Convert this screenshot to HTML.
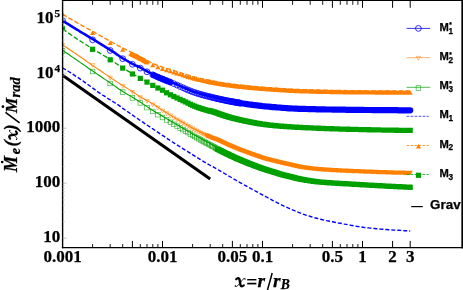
<!DOCTYPE html>
<html><head><meta charset="utf-8"><title>plot</title>
<style>html,body{margin:0;padding:0;background:#fff;}body{width:463px;height:290px;overflow:hidden;font-family:"Liberation Serif",serif;}svg{display:block;position:absolute;left:0;top:0;will-change:transform;}text{font-family:"Liberation Serif",serif;font-weight:bold;fill:#000;stroke:#000;stroke-width:0.25px;}.s{font-family:"Liberation Sans",sans-serif;font-weight:bold;}.i{font-style:italic;}</style>
</head><body>
<svg width="463" height="290" viewBox="0 0 463 290">
<rect width="463" height="290" fill="#fff"/>
<defs><clipPath id="c"><rect x="62.5" y="0" width="401" height="247.5"/></clipPath></defs>
<g clip-path="url(#c)" fill="none">
<path d="M62.5 75.2L210.2 179.1" stroke="#000" stroke-width="3"/>
<path d="M62.5 67.8 L64.5 69.0 L66.5 70.2 L68.5 71.5 L70.5 72.7 L72.5 74.0 L74.5 75.3 L76.5 76.6 L78.5 77.9 L80.5 79.3 L82.5 80.6 L84.5 82.1 L86.5 83.5 L88.5 85.0 L90.5 86.5 L92.5 87.9 L94.5 89.4 L96.5 90.9 L98.5 92.3 L100.5 93.6 L102.5 95.0 L104.5 96.2 L106.5 97.5 L108.5 98.8 L110.5 100.0 L112.5 101.3 L114.5 102.5 L116.5 103.9 L118.5 105.2 L120.5 106.6 L122.5 108.1 L124.5 109.5 L126.5 110.9 L128.5 112.3 L130.5 113.7 L132.5 115.1 L134.5 116.5 L136.5 117.8 L138.5 119.2 L140.5 120.6 L142.5 121.9 L144.5 123.3 L146.5 124.6 L148.5 126.0 L150.5 127.3 L152.5 128.7 L154.5 130.0 L156.5 131.4 L158.5 132.7 L160.5 134.1 L162.5 135.4 L164.5 136.7 L166.5 138.1 L168.5 139.4 L170.5 140.7 L172.5 142.0 L174.5 143.3 L176.5 144.6 L178.5 145.9 L180.5 147.1 L182.5 148.3 L184.5 149.6 L186.5 150.8 L188.5 152.1 L190.5 153.3 L192.5 154.6 L194.5 155.9 L196.5 157.2 L198.5 158.4 L200.5 159.7 L202.5 160.9 L204.5 162.1 L206.5 163.2 L208.5 164.4 L210.5 165.5 L212.5 166.6 L214.5 167.7 L216.5 168.8 L218.5 170.0 L220.5 171.2 L222.5 172.3 L224.5 173.5 L226.5 174.7 L228.5 175.9 L230.5 177.0 L232.5 178.2 L234.5 179.4 L236.5 180.5 L238.5 181.7 L240.5 182.8 L242.5 183.9 L244.5 185.1 L246.5 186.2 L248.5 187.3 L250.5 188.4 L252.5 189.5 L254.5 190.5 L256.5 191.6 L258.5 192.7 L260.5 193.8 L262.5 194.9 L264.5 196.0 L266.5 197.0 L268.5 198.1 L270.5 199.2 L272.5 200.3 L274.5 201.4 L276.5 202.4 L278.5 203.4 L280.5 204.4 L282.5 205.4 L284.5 206.3 L286.5 207.2 L288.5 208.1 L290.5 209.0 L292.5 209.9 L294.5 210.7 L296.5 211.6 L298.5 212.4 L300.5 213.2 L302.5 213.9 L304.5 214.6 L306.5 215.3 L308.5 215.9 L310.5 216.5 L312.5 217.1 L314.5 217.7 L316.5 218.2 L318.5 218.7 L320.5 219.2 L322.5 219.7 L324.5 220.1 L326.5 220.6 L328.5 221.0 L330.5 221.4 L332.5 221.8 L334.5 222.2 L336.5 222.6 L338.5 223.0 L340.5 223.3 L342.5 223.7 L344.5 224.1 L346.5 224.4 L348.5 224.8 L350.5 225.2 L352.5 225.5 L354.5 225.9 L356.5 226.3 L358.5 226.6 L360.5 226.9 L362.5 227.2 L364.5 227.5 L366.5 227.7 L368.5 227.9 L370.5 228.1 L372.5 228.3 L374.5 228.5 L376.5 228.7 L378.5 228.9 L380.5 229.1 L382.5 229.2 L384.5 229.4 L386.5 229.5 L388.5 229.7 L390.5 229.8 L392.5 230.0 L394.5 230.1 L396.5 230.2 L398.5 230.3 L400.5 230.4 L402.5 230.5 L404.5 230.7 L406.5 230.8 L408.5 230.9 L410.2 231.0" stroke="#0000ff" stroke-width="1.4" stroke-dasharray="4 2"/>
<path d="M62.5 50.2 L64.5 51.6 L66.5 53.0 L68.5 54.3 L70.5 55.7 L72.5 57.1 L74.5 58.5 L76.5 59.9 L78.5 61.3 L80.5 62.6 L82.5 64.0 L84.5 65.4 L86.5 66.8 L88.5 68.2 L90.5 69.5 L92.5 70.9 L94.5 72.3 L96.5 73.6 L98.5 75.0 L100.5 76.3 L102.5 77.7 L104.5 79.1 L106.5 80.4 L108.5 81.8 L110.5 83.1 L112.5 84.5 L114.5 85.9 L116.5 87.3 L118.5 88.7 L120.5 90.0 L122.5 91.3 L124.5 92.6 L126.5 93.8 L128.5 94.9 L130.5 96.1 L132.5 97.3 L134.5 98.5 L136.5 99.8 L138.5 101.0 L140.5 102.3 L142.5 103.6 L144.5 105.0 L146.5 106.4 L148.5 107.7 L150.5 109.0 L152.5 110.3 L154.5 111.5 L156.5 112.7 L158.5 113.8 L160.5 115.0 L162.5 116.2 L164.5 117.4 L166.5 118.6 L168.5 119.8 L170.5 121.0 L172.5 122.1 L174.5 123.3 L176.5 124.5 L178.5 125.6 L180.5 126.8 L182.5 128.0 L184.5 129.1 L186.5 130.3 L188.5 131.4 L190.5 132.6 L192.5 133.7 L194.5 134.9 L196.5 136.0 L198.5 137.2 L200.5 138.3 L202.5 139.4 L204.5 140.5 L206.5 141.6 L208.5 142.6 L210.5 143.7 L212.5 144.8 L214.5 145.9 L216.5 147.0 L218.5 148.0 L220.5 149.1 L222.5 150.1 L224.5 151.1 L226.5 152.1 L228.5 153.0 L230.5 154.0 L232.5 154.9 L234.5 155.8 L236.5 156.7 L238.5 157.6 L240.5 158.5 L242.5 159.3 L244.5 160.1 L246.5 161.0 L248.5 161.7 L250.5 162.5 L252.5 163.3 L254.5 164.1 L256.5 164.8 L258.5 165.6 L260.5 166.3 L262.5 167.0 L264.5 167.7 L266.5 168.3 L268.5 168.9 L270.5 169.5 L272.5 170.1 L274.5 170.7 L276.5 171.4 L278.5 172.0 L280.5 172.6 L282.5 173.2 L284.5 173.7 L286.5 174.2 L288.5 174.7 L290.5 175.2 L292.5 175.7 L294.5 176.2 L296.5 176.7 L298.5 177.2 L300.5 177.6 L302.5 178.0 L304.5 178.3 L306.5 178.7 L308.5 179.0 L310.5 179.3 L312.5 179.6 L314.5 179.9 L316.5 180.1 L318.5 180.4 L320.5 180.5 L322.5 180.7 L324.5 180.9 L326.5 181.1 L328.5 181.2 L330.5 181.3 L332.5 181.5 L334.5 181.6 L336.5 181.7 L338.5 181.8 L340.5 182.0 L342.5 182.1 L344.5 182.2 L346.5 182.3 L348.5 182.4 L350.5 182.5 L352.5 182.7 L354.5 182.8 L356.5 182.9 L358.5 183.0 L360.5 183.1 L362.5 183.2 L364.5 183.4 L366.5 183.5 L368.5 183.6 L370.5 183.7 L372.5 183.8 L374.5 183.9 L376.5 184.0 L378.5 184.2 L380.5 184.3 L382.5 184.4 L384.5 184.5 L386.5 184.6 L388.5 184.7 L390.5 184.8 L392.5 184.9 L394.5 185.0 L396.5 185.1 L398.5 185.2 L400.5 185.3 L402.5 185.4 L404.5 185.5 L406.5 185.6 L408.5 185.7 L410.2 185.8" stroke="#00a000" stroke-width="1.1"/>
<rect x="60.2" y="48.7" width="4.6" height="4.6" fill="none" stroke="#00a000" stroke-width="0.6" stroke-opacity="0.85"/><rect x="90.3" y="69.2" width="4.6" height="4.6" fill="none" stroke="#00a000" stroke-width="0.6" stroke-opacity="0.85"/><rect x="107.9" y="81.2" width="4.6" height="4.6" fill="none" stroke="#00a000" stroke-width="0.6" stroke-opacity="0.85"/><rect x="120.4" y="89.8" width="4.6" height="4.6" fill="none" stroke="#00a000" stroke-width="0.6" stroke-opacity="0.85"/><rect x="130.1" y="95.6" width="4.6" height="4.6" fill="none" stroke="#00a000" stroke-width="0.6" stroke-opacity="0.85"/><rect x="138" y="100.6" width="4.6" height="4.6" fill="none" stroke="#00a000" stroke-width="0.6" stroke-opacity="0.85"/><rect x="144.7" y="105.3" width="4.6" height="4.6" fill="none" stroke="#00a000" stroke-width="0.6" stroke-opacity="0.85"/><rect x="150.5" y="109.2" width="4.6" height="4.6" fill="none" stroke="#00a000" stroke-width="0.6" stroke-opacity="0.85"/><rect x="155.6" y="112.4" width="4.6" height="4.6" fill="none" stroke="#00a000" stroke-width="0.6" stroke-opacity="0.85"/><rect x="160.2" y="115.2" width="4.6" height="4.6" fill="none" stroke="#00a000" stroke-width="0.6" stroke-opacity="0.85"/><rect x="164.3" y="117.7" width="4.6" height="4.6" fill="none" stroke="#00a000" stroke-width="0.6" stroke-opacity="0.85"/><rect x="168.1" y="120" width="4.6" height="4.6" fill="none" stroke="#00a000" stroke-width="0.6" stroke-opacity="0.85"/><rect x="171.6" y="122" width="4.6" height="4.6" fill="none" stroke="#00a000" stroke-width="0.6" stroke-opacity="0.85"/><rect x="174.8" y="123.9" width="4.6" height="4.6" fill="none" stroke="#00a000" stroke-width="0.6" stroke-opacity="0.85"/><rect x="177.8" y="125.7" width="4.6" height="4.6" fill="none" stroke="#00a000" stroke-width="0.6" stroke-opacity="0.85"/><rect x="180.6" y="127.3" width="4.6" height="4.6" fill="none" stroke="#00a000" stroke-width="0.6" stroke-opacity="0.85"/><rect x="183.2" y="128.9" width="4.6" height="4.6" fill="none" stroke="#00a000" stroke-width="0.6" stroke-opacity="0.85"/><rect x="185.7" y="130.3" width="4.6" height="4.6" fill="none" stroke="#00a000" stroke-width="0.6" stroke-opacity="0.85"/><rect x="188.1" y="131.7" width="4.6" height="4.6" fill="none" stroke="#00a000" stroke-width="0.6" stroke-opacity="0.85"/><rect x="190.3" y="133" width="4.6" height="4.6" fill="none" stroke="#00a000" stroke-width="0.6" stroke-opacity="0.85"/><rect x="192.4" y="134.2" width="4.6" height="4.6" fill="none" stroke="#00a000" stroke-width="0.6" stroke-opacity="0.85"/><rect x="194.4" y="135.3" width="4.6" height="4.6" fill="none" stroke="#00a000" stroke-width="0.6" stroke-opacity="0.85"/><rect x="196.4" y="136.4" width="4.6" height="4.6" fill="none" stroke="#00a000" stroke-width="0.6" stroke-opacity="0.85"/><rect x="198.2" y="137.5" width="4.6" height="4.6" fill="none" stroke="#00a000" stroke-width="0.6" stroke-opacity="0.85"/><rect x="200" y="138.5" width="4.6" height="4.6" fill="none" stroke="#00a000" stroke-width="0.6" stroke-opacity="0.85"/><rect x="201.7" y="139.4" width="4.6" height="4.6" fill="none" stroke="#00a000" stroke-width="0.6" stroke-opacity="0.85"/><rect x="203.3" y="140.3" width="4.6" height="4.6" fill="none" stroke="#00a000" stroke-width="0.6" stroke-opacity="0.85"/><rect x="204.9" y="141.1" width="4.6" height="4.6" fill="none" stroke="#00a000" stroke-width="0.6" stroke-opacity="0.85"/><rect x="206.4" y="142" width="4.6" height="4.6" fill="none" stroke="#00a000" stroke-width="0.6" stroke-opacity="0.85"/><rect x="207.9" y="142.7" width="4.6" height="4.6" fill="none" stroke="#00a000" stroke-width="0.6" stroke-opacity="0.85"/><rect x="209.3" y="143.5" width="4.6" height="4.6" fill="none" stroke="#00a000" stroke-width="0.6" stroke-opacity="0.85"/><rect x="210.7" y="144.3" width="4.6" height="4.6" fill="none" stroke="#00a000" stroke-width="0.6" stroke-opacity="0.85"/><rect x="212.1" y="145" width="4.6" height="4.6" fill="none" stroke="#00a000" stroke-width="0.6" stroke-opacity="0.85"/><rect x="213.3" y="145.7" width="4.6" height="4.6" fill="none" stroke="#00a000" stroke-width="0.6" stroke-opacity="0.85"/><rect x="214.6" y="146.4" width="4.6" height="4.6" fill="none" stroke="#00a000" stroke-width="0.6" stroke-opacity="0.85"/>
<path d="M214.9 146.4h5.2v5.2h-5.2zM215.5 146.7h5.2v5.2h-5.2zM216.1 147.0h5.2v5.2h-5.2zM216.7 147.4h5.2v5.2h-5.2zM217.3 147.7h5.2v5.2h-5.2zM217.9 148.0h5.2v5.2h-5.2zM218.5 148.3h5.2v5.2h-5.2zM219.1 148.6h5.2v5.2h-5.2zM219.7 148.9h5.2v5.2h-5.2zM220.3 149.2h5.2v5.2h-5.2zM220.9 149.5h5.2v5.2h-5.2zM221.5 149.8h5.2v5.2h-5.2zM222.1 150.1h5.2v5.2h-5.2zM222.7 150.4h5.2v5.2h-5.2zM223.3 150.7h5.2v5.2h-5.2zM223.9 151.0h5.2v5.2h-5.2zM224.5 151.3h5.2v5.2h-5.2zM225.1 151.6h5.2v5.2h-5.2zM225.7 151.8h5.2v5.2h-5.2zM226.3 152.1h5.2v5.2h-5.2zM226.9 152.4h5.2v5.2h-5.2zM227.5 152.7h5.2v5.2h-5.2zM228.1 153.0h5.2v5.2h-5.2zM228.7 153.3h5.2v5.2h-5.2zM229.3 153.6h5.2v5.2h-5.2zM229.9 153.8h5.2v5.2h-5.2zM230.5 154.1h5.2v5.2h-5.2zM231.1 154.4h5.2v5.2h-5.2zM231.7 154.7h5.2v5.2h-5.2zM232.3 154.9h5.2v5.2h-5.2zM232.9 155.2h5.2v5.2h-5.2zM233.5 155.5h5.2v5.2h-5.2zM234.1 155.7h5.2v5.2h-5.2zM234.7 156.0h5.2v5.2h-5.2zM235.3 156.3h5.2v5.2h-5.2zM235.9 156.5h5.2v5.2h-5.2zM236.5 156.8h5.2v5.2h-5.2zM237.1 157.0h5.2v5.2h-5.2zM237.7 157.3h5.2v5.2h-5.2zM238.3 157.6h5.2v5.2h-5.2zM238.9 157.8h5.2v5.2h-5.2zM239.5 158.1h5.2v5.2h-5.2zM240.1 158.3h5.2v5.2h-5.2zM240.7 158.6h5.2v5.2h-5.2zM241.3 158.8h5.2v5.2h-5.2zM241.9 159.1h5.2v5.2h-5.2zM242.5 159.3h5.2v5.2h-5.2zM243.1 159.5h5.2v5.2h-5.2zM243.7 159.8h5.2v5.2h-5.2zM244.3 160.0h5.2v5.2h-5.2zM244.9 160.3h5.2v5.2h-5.2zM245.5 160.5h5.2v5.2h-5.2zM246.1 160.7h5.2v5.2h-5.2zM246.7 161.0h5.2v5.2h-5.2zM247.3 161.2h5.2v5.2h-5.2zM247.9 161.4h5.2v5.2h-5.2zM248.5 161.7h5.2v5.2h-5.2zM249.1 161.9h5.2v5.2h-5.2zM249.7 162.1h5.2v5.2h-5.2zM250.3 162.4h5.2v5.2h-5.2zM250.9 162.6h5.2v5.2h-5.2zM251.5 162.8h5.2v5.2h-5.2zM252.1 163.0h5.2v5.2h-5.2zM252.7 163.3h5.2v5.2h-5.2zM253.3 163.5h5.2v5.2h-5.2zM253.9 163.7h5.2v5.2h-5.2zM254.5 163.9h5.2v5.2h-5.2zM255.1 164.2h5.2v5.2h-5.2zM255.7 164.4h5.2v5.2h-5.2zM256.3 164.6h5.2v5.2h-5.2zM256.9 164.8h5.2v5.2h-5.2zM257.5 165.0h5.2v5.2h-5.2zM258.1 165.3h5.2v5.2h-5.2zM258.7 165.5h5.2v5.2h-5.2zM259.3 165.7h5.2v5.2h-5.2zM259.9 165.9h5.2v5.2h-5.2zM260.5 166.1h5.2v5.2h-5.2zM261.1 166.3h5.2v5.2h-5.2zM261.7 166.5h5.2v5.2h-5.2zM262.3 166.7h5.2v5.2h-5.2zM262.9 166.9h5.2v5.2h-5.2zM263.5 167.1h5.2v5.2h-5.2zM264.1 167.3h5.2v5.2h-5.2zM264.7 167.5h5.2v5.2h-5.2zM265.3 167.7h5.2v5.2h-5.2zM265.9 167.8h5.2v5.2h-5.2zM266.5 168.0h5.2v5.2h-5.2zM267.1 168.2h5.2v5.2h-5.2zM267.7 168.4h5.2v5.2h-5.2zM268.3 168.5h5.2v5.2h-5.2zM268.9 168.7h5.2v5.2h-5.2zM269.5 168.9h5.2v5.2h-5.2zM270.1 169.1h5.2v5.2h-5.2zM270.7 169.3h5.2v5.2h-5.2zM271.3 169.5h5.2v5.2h-5.2zM271.9 169.7h5.2v5.2h-5.2zM272.5 169.8h5.2v5.2h-5.2zM273.1 170.0h5.2v5.2h-5.2zM273.7 170.2h5.2v5.2h-5.2zM274.3 170.4h5.2v5.2h-5.2zM274.9 170.6h5.2v5.2h-5.2zM275.5 170.8h5.2v5.2h-5.2zM276.1 171.0h5.2v5.2h-5.2zM276.7 171.2h5.2v5.2h-5.2zM277.3 171.3h5.2v5.2h-5.2zM277.9 171.5h5.2v5.2h-5.2zM278.5 171.7h5.2v5.2h-5.2zM279.1 171.9h5.2v5.2h-5.2zM279.7 172.0h5.2v5.2h-5.2zM280.3 172.2h5.2v5.2h-5.2zM280.9 172.4h5.2v5.2h-5.2zM281.5 172.5h5.2v5.2h-5.2zM282.1 172.7h5.2v5.2h-5.2zM282.7 172.8h5.2v5.2h-5.2zM283.3 173.0h5.2v5.2h-5.2zM283.9 173.1h5.2v5.2h-5.2zM284.5 173.2h5.2v5.2h-5.2zM285.1 173.4h5.2v5.2h-5.2zM285.7 173.5h5.2v5.2h-5.2zM286.3 173.7h5.2v5.2h-5.2zM286.9 173.8h5.2v5.2h-5.2zM287.5 174.0h5.2v5.2h-5.2zM288.1 174.1h5.2v5.2h-5.2zM288.7 174.3h5.2v5.2h-5.2zM289.3 174.4h5.2v5.2h-5.2zM289.9 174.6h5.2v5.2h-5.2zM290.5 174.7h5.2v5.2h-5.2zM291.1 174.9h5.2v5.2h-5.2zM291.7 175.0h5.2v5.2h-5.2zM292.3 175.2h5.2v5.2h-5.2zM292.9 175.4h5.2v5.2h-5.2zM293.5 175.5h5.2v5.2h-5.2zM294.1 175.7h5.2v5.2h-5.2zM294.7 175.8h5.2v5.2h-5.2zM295.3 176.0h5.2v5.2h-5.2zM295.9 176.1h5.2v5.2h-5.2zM296.5 176.2h5.2v5.2h-5.2zM297.1 176.3h5.2v5.2h-5.2zM297.7 176.5h5.2v5.2h-5.2zM298.3 176.6h5.2v5.2h-5.2zM298.9 176.7h5.2v5.2h-5.2zM299.5 176.8h5.2v5.2h-5.2zM300.1 176.9h5.2v5.2h-5.2zM300.7 177.0h5.2v5.2h-5.2zM301.3 177.1h5.2v5.2h-5.2zM301.9 177.2h5.2v5.2h-5.2zM302.5 177.3h5.2v5.2h-5.2zM303.1 177.4h5.2v5.2h-5.2zM303.7 177.5h5.2v5.2h-5.2zM304.3 177.7h5.2v5.2h-5.2zM304.9 177.8h5.2v5.2h-5.2zM305.5 177.8h5.2v5.2h-5.2zM306.1 177.9h5.2v5.2h-5.2zM306.7 178.0h5.2v5.2h-5.2zM307.3 178.1h5.2v5.2h-5.2zM307.9 178.2h5.2v5.2h-5.2zM308.5 178.3h5.2v5.2h-5.2zM309.1 178.4h5.2v5.2h-5.2zM309.7 178.5h5.2v5.2h-5.2zM310.3 178.6h5.2v5.2h-5.2zM310.9 178.7h5.2v5.2h-5.2zM311.5 178.7h5.2v5.2h-5.2zM312.1 178.8h5.2v5.2h-5.2zM312.7 178.9h5.2v5.2h-5.2zM313.3 179.0h5.2v5.2h-5.2zM313.9 179.0h5.2v5.2h-5.2zM314.5 179.1h5.2v5.2h-5.2zM315.1 179.2h5.2v5.2h-5.2zM315.7 179.2h5.2v5.2h-5.2zM316.3 179.3h5.2v5.2h-5.2zM316.9 179.4h5.2v5.2h-5.2zM317.5 179.4h5.2v5.2h-5.2zM318.1 179.5h5.2v5.2h-5.2zM318.7 179.5h5.2v5.2h-5.2zM319.3 179.6h5.2v5.2h-5.2zM319.9 179.6h5.2v5.2h-5.2zM320.5 179.7h5.2v5.2h-5.2zM321.1 179.7h5.2v5.2h-5.2zM321.7 179.8h5.2v5.2h-5.2zM322.3 179.8h5.2v5.2h-5.2zM322.9 179.9h5.2v5.2h-5.2zM323.5 179.9h5.2v5.2h-5.2zM324.1 180.0h5.2v5.2h-5.2zM324.7 180.0h5.2v5.2h-5.2zM325.3 180.1h5.2v5.2h-5.2zM325.9 180.1h5.2v5.2h-5.2zM326.5 180.1h5.2v5.2h-5.2zM327.1 180.2h5.2v5.2h-5.2zM327.7 180.2h5.2v5.2h-5.2zM328.3 180.3h5.2v5.2h-5.2zM328.9 180.3h5.2v5.2h-5.2zM329.5 180.3h5.2v5.2h-5.2zM330.1 180.4h5.2v5.2h-5.2zM330.7 180.4h5.2v5.2h-5.2zM331.3 180.5h5.2v5.2h-5.2zM331.9 180.5h5.2v5.2h-5.2zM332.5 180.5h5.2v5.2h-5.2zM333.1 180.6h5.2v5.2h-5.2zM333.7 180.6h5.2v5.2h-5.2zM334.3 180.6h5.2v5.2h-5.2zM334.9 180.7h5.2v5.2h-5.2zM335.5 180.7h5.2v5.2h-5.2zM336.1 180.7h5.2v5.2h-5.2zM336.7 180.8h5.2v5.2h-5.2zM337.3 180.8h5.2v5.2h-5.2zM337.9 180.9h5.2v5.2h-5.2zM338.5 180.9h5.2v5.2h-5.2zM339.1 180.9h5.2v5.2h-5.2zM339.7 181.0h5.2v5.2h-5.2zM340.3 181.0h5.2v5.2h-5.2zM340.9 181.0h5.2v5.2h-5.2zM341.5 181.1h5.2v5.2h-5.2zM342.1 181.1h5.2v5.2h-5.2zM342.7 181.1h5.2v5.2h-5.2zM343.3 181.2h5.2v5.2h-5.2zM343.9 181.2h5.2v5.2h-5.2zM344.5 181.2h5.2v5.2h-5.2zM345.1 181.3h5.2v5.2h-5.2zM345.7 181.3h5.2v5.2h-5.2zM346.3 181.3h5.2v5.2h-5.2zM346.9 181.4h5.2v5.2h-5.2zM347.5 181.4h5.2v5.2h-5.2zM348.1 181.4h5.2v5.2h-5.2zM348.7 181.5h5.2v5.2h-5.2zM349.3 181.5h5.2v5.2h-5.2zM349.9 181.6h5.2v5.2h-5.2zM350.5 181.6h5.2v5.2h-5.2zM351.1 181.6h5.2v5.2h-5.2zM351.7 181.7h5.2v5.2h-5.2zM352.3 181.7h5.2v5.2h-5.2zM352.9 181.7h5.2v5.2h-5.2zM353.5 181.8h5.2v5.2h-5.2zM354.1 181.8h5.2v5.2h-5.2zM354.7 181.8h5.2v5.2h-5.2zM355.3 181.9h5.2v5.2h-5.2zM355.9 181.9h5.2v5.2h-5.2zM356.5 181.9h5.2v5.2h-5.2zM357.1 182.0h5.2v5.2h-5.2zM357.7 182.0h5.2v5.2h-5.2zM358.3 182.1h5.2v5.2h-5.2zM358.9 182.1h5.2v5.2h-5.2zM359.5 182.1h5.2v5.2h-5.2zM360.1 182.2h5.2v5.2h-5.2zM360.7 182.2h5.2v5.2h-5.2zM361.3 182.2h5.2v5.2h-5.2zM361.9 182.3h5.2v5.2h-5.2zM362.5 182.3h5.2v5.2h-5.2zM363.1 182.3h5.2v5.2h-5.2zM363.7 182.4h5.2v5.2h-5.2zM364.3 182.4h5.2v5.2h-5.2zM364.9 182.4h5.2v5.2h-5.2zM365.5 182.5h5.2v5.2h-5.2zM366.1 182.5h5.2v5.2h-5.2zM366.7 182.5h5.2v5.2h-5.2zM367.3 182.6h5.2v5.2h-5.2zM367.9 182.6h5.2v5.2h-5.2zM368.5 182.6h5.2v5.2h-5.2zM369.1 182.7h5.2v5.2h-5.2zM369.7 182.7h5.2v5.2h-5.2zM370.3 182.7h5.2v5.2h-5.2zM370.9 182.8h5.2v5.2h-5.2zM371.5 182.8h5.2v5.2h-5.2zM372.1 182.8h5.2v5.2h-5.2zM372.7 182.9h5.2v5.2h-5.2zM373.3 182.9h5.2v5.2h-5.2zM373.9 182.9h5.2v5.2h-5.2zM374.5 183.0h5.2v5.2h-5.2zM375.1 183.0h5.2v5.2h-5.2zM375.7 183.0h5.2v5.2h-5.2zM376.3 183.1h5.2v5.2h-5.2zM376.9 183.1h5.2v5.2h-5.2zM377.5 183.1h5.2v5.2h-5.2zM378.1 183.2h5.2v5.2h-5.2zM378.7 183.2h5.2v5.2h-5.2zM379.3 183.2h5.2v5.2h-5.2zM379.9 183.3h5.2v5.2h-5.2zM380.5 183.3h5.2v5.2h-5.2zM381.1 183.3h5.2v5.2h-5.2zM381.7 183.4h5.2v5.2h-5.2zM382.3 183.4h5.2v5.2h-5.2zM382.9 183.4h5.2v5.2h-5.2zM383.5 183.5h5.2v5.2h-5.2zM384.1 183.5h5.2v5.2h-5.2zM384.7 183.5h5.2v5.2h-5.2zM385.3 183.6h5.2v5.2h-5.2zM385.9 183.6h5.2v5.2h-5.2zM386.5 183.6h5.2v5.2h-5.2zM387.1 183.7h5.2v5.2h-5.2zM387.7 183.7h5.2v5.2h-5.2zM388.3 183.7h5.2v5.2h-5.2zM388.9 183.7h5.2v5.2h-5.2zM389.5 183.8h5.2v5.2h-5.2zM390.1 183.8h5.2v5.2h-5.2zM390.7 183.8h5.2v5.2h-5.2zM391.3 183.9h5.2v5.2h-5.2zM391.9 183.9h5.2v5.2h-5.2zM392.5 183.9h5.2v5.2h-5.2zM393.1 184.0h5.2v5.2h-5.2zM393.7 184.0h5.2v5.2h-5.2zM394.3 184.0h5.2v5.2h-5.2zM394.9 184.1h5.2v5.2h-5.2zM395.5 184.1h5.2v5.2h-5.2zM396.1 184.1h5.2v5.2h-5.2zM396.7 184.1h5.2v5.2h-5.2zM397.3 184.2h5.2v5.2h-5.2zM397.9 184.2h5.2v5.2h-5.2zM398.5 184.2h5.2v5.2h-5.2zM399.1 184.3h5.2v5.2h-5.2zM399.7 184.3h5.2v5.2h-5.2zM400.3 184.3h5.2v5.2h-5.2zM400.9 184.3h5.2v5.2h-5.2zM401.5 184.4h5.2v5.2h-5.2zM402.1 184.4h5.2v5.2h-5.2zM402.7 184.4h5.2v5.2h-5.2zM403.3 184.5h5.2v5.2h-5.2zM403.9 184.5h5.2v5.2h-5.2zM404.5 184.5h5.2v5.2h-5.2zM405.1 184.5h5.2v5.2h-5.2zM405.7 184.6h5.2v5.2h-5.2zM406.3 184.6h5.2v5.2h-5.2zM406.9 184.6h5.2v5.2h-5.2zM407.5 184.7h5.2v5.2h-5.2zM407.6 184.7h5.2v5.2h-5.2z" fill="#00a000"/>
<path d="M62.5 44.8 L64.5 46.1 L66.5 47.5 L68.5 48.8 L70.5 50.2 L72.5 51.5 L74.5 52.9 L76.5 54.2 L78.5 55.6 L80.5 57.0 L82.5 58.4 L84.5 59.8 L86.5 61.2 L88.5 62.6 L90.5 64.0 L92.5 65.4 L94.5 66.8 L96.5 68.1 L98.5 69.5 L100.5 70.8 L102.5 72.2 L104.5 73.6 L106.5 74.9 L108.5 76.3 L110.5 77.6 L112.5 78.9 L114.5 80.3 L116.5 81.6 L118.5 82.9 L120.5 84.2 L122.5 85.4 L124.5 86.7 L126.5 87.9 L128.5 89.1 L130.5 90.4 L132.5 91.7 L134.5 93.0 L136.5 94.4 L138.5 95.8 L140.5 97.0 L142.5 98.2 L144.5 99.3 L146.5 100.4 L148.5 101.4 L150.5 102.6 L152.5 103.8 L154.5 105.0 L156.5 106.3 L158.5 107.6 L160.5 108.9 L162.5 110.2 L164.5 111.5 L166.5 112.7 L168.5 113.9 L170.5 115.2 L172.5 116.4 L174.5 117.6 L176.5 118.8 L178.5 120.0 L180.5 121.1 L182.5 122.3 L184.5 123.4 L186.5 124.6 L188.5 125.7 L190.5 126.9 L192.5 128.0 L194.5 129.1 L196.5 130.2 L198.5 131.3 L200.5 132.3 L202.5 133.2 L204.5 134.1 L206.5 135.0 L208.5 135.8 L210.5 136.5 L212.5 137.3 L214.5 138.1 L216.5 138.9 L218.5 139.7 L220.5 140.6 L222.5 141.6 L224.5 142.5 L226.5 143.4 L228.5 144.4 L230.5 145.2 L232.5 146.1 L234.5 146.9 L236.5 147.7 L238.5 148.5 L240.5 149.2 L242.5 150.0 L244.5 150.8 L246.5 151.5 L248.5 152.2 L250.5 153.0 L252.5 153.7 L254.5 154.4 L256.5 155.1 L258.5 155.8 L260.5 156.4 L262.5 157.1 L264.5 157.7 L266.5 158.3 L268.5 158.8 L270.5 159.3 L272.5 159.8 L274.5 160.3 L276.5 160.7 L278.5 161.2 L280.5 161.7 L282.5 162.2 L284.5 162.6 L286.5 163.1 L288.5 163.6 L290.5 164.0 L292.5 164.5 L294.5 165.0 L296.5 165.4 L298.5 165.8 L300.5 166.2 L302.5 166.5 L304.5 166.8 L306.5 167.0 L308.5 167.3 L310.5 167.6 L312.5 167.8 L314.5 168.0 L316.5 168.2 L318.5 168.4 L320.5 168.5 L322.5 168.7 L324.5 168.8 L326.5 169.0 L328.5 169.1 L330.5 169.2 L332.5 169.3 L334.5 169.5 L336.5 169.6 L338.5 169.7 L340.5 169.8 L342.5 169.9 L344.5 170.0 L346.5 170.0 L348.5 170.1 L350.5 170.2 L352.5 170.3 L354.5 170.4 L356.5 170.5 L358.5 170.6 L360.5 170.6 L362.5 170.7 L364.5 170.8 L366.5 170.9 L368.5 171.0 L370.5 171.0 L372.5 171.1 L374.5 171.2 L376.5 171.3 L378.5 171.3 L380.5 171.4 L382.5 171.5 L384.5 171.5 L386.5 171.6 L388.5 171.7 L390.5 171.7 L392.5 171.8 L394.5 171.8 L396.5 171.9 L398.5 171.9 L400.5 172.0 L402.5 172.0 L404.5 172.1 L406.5 172.1 L408.5 172.2 L410.2 172.2" stroke="#ff8000" stroke-width="1.1"/>
<path d="M60.4 43.5L64.7 43.5L62.5 47.4Z" fill="none" stroke="#ff8000" stroke-width="0.6" stroke-opacity="0.85"/><path d="M90.5 63.6L94.8 63.6L92.6 67.5Z" fill="none" stroke="#ff8000" stroke-width="0.6" stroke-opacity="0.85"/><path d="M108.1 76.1L112.4 76.1L110.2 80Z" fill="none" stroke="#ff8000" stroke-width="0.6" stroke-opacity="0.85"/><path d="M120.6 84.4L124.9 84.4L122.7 88.3Z" fill="none" stroke="#ff8000" stroke-width="0.6" stroke-opacity="0.85"/><path d="M130.2 90.5L134.5 90.5L132.4 94.4Z" fill="none" stroke="#ff8000" stroke-width="0.6" stroke-opacity="0.85"/><path d="M138.2 95.8L142.5 95.8L140.3 99.7Z" fill="none" stroke="#ff8000" stroke-width="0.6" stroke-opacity="0.85"/><path d="M144.9 99.5L149.2 99.5L147 103.4Z" fill="none" stroke="#ff8000" stroke-width="0.6" stroke-opacity="0.85"/><path d="M150.7 102.9L155 102.9L152.8 106.8Z" fill="none" stroke="#ff8000" stroke-width="0.6" stroke-opacity="0.85"/><path d="M155.8 106.1L160.1 106.1L157.9 110Z" fill="none" stroke="#ff8000" stroke-width="0.6" stroke-opacity="0.85"/><path d="M160.3 109.1L164.7 109.1L162.5 113Z" fill="none" stroke="#ff8000" stroke-width="0.6" stroke-opacity="0.85"/><path d="M164.5 111.7L168.8 111.7L166.6 115.6Z" fill="none" stroke="#ff8000" stroke-width="0.6" stroke-opacity="0.85"/><path d="M168.3 114L172.6 114L170.4 117.9Z" fill="none" stroke="#ff8000" stroke-width="0.6" stroke-opacity="0.85"/><path d="M171.7 116.1L176 116.1L173.9 120Z" fill="none" stroke="#ff8000" stroke-width="0.6" stroke-opacity="0.85"/><path d="M175 118L179.3 118L177.1 121.9Z" fill="none" stroke="#ff8000" stroke-width="0.6" stroke-opacity="0.85"/><path d="M178 119.8L182.3 119.8L180.1 123.7Z" fill="none" stroke="#ff8000" stroke-width="0.6" stroke-opacity="0.85"/><path d="M180.8 121.4L185.1 121.4L182.9 125.3Z" fill="none" stroke="#ff8000" stroke-width="0.6" stroke-opacity="0.85"/><path d="M183.4 122.9L187.7 122.9L185.5 126.8Z" fill="none" stroke="#ff8000" stroke-width="0.6" stroke-opacity="0.85"/><path d="M185.9 124.4L190.2 124.4L188 128.3Z" fill="none" stroke="#ff8000" stroke-width="0.6" stroke-opacity="0.85"/><path d="M188.2 125.7L192.5 125.7L190.4 129.6Z" fill="none" stroke="#ff8000" stroke-width="0.6" stroke-opacity="0.85"/><path d="M190.5 127L194.8 127L192.6 130.9Z" fill="none" stroke="#ff8000" stroke-width="0.6" stroke-opacity="0.85"/><path d="M192.6 128.2L196.9 128.2L194.7 132.1Z" fill="none" stroke="#ff8000" stroke-width="0.6" stroke-opacity="0.85"/><path d="M194.6 129.3L198.9 129.3L196.7 133.2Z" fill="none" stroke="#ff8000" stroke-width="0.6" stroke-opacity="0.85"/><path d="M196.5 130.3L200.8 130.3L198.7 134.2Z" fill="none" stroke="#ff8000" stroke-width="0.6" stroke-opacity="0.85"/><path d="M198.4 131.2L202.7 131.2L200.5 135.1Z" fill="none" stroke="#ff8000" stroke-width="0.6" stroke-opacity="0.85"/><path d="M200.1 132L204.4 132L202.3 135.9Z" fill="none" stroke="#ff8000" stroke-width="0.6" stroke-opacity="0.85"/><path d="M201.8 132.8L206.1 132.8L204 136.7Z" fill="none" stroke="#ff8000" stroke-width="0.6" stroke-opacity="0.85"/><path d="M203.5 133.5L207.8 133.5L205.6 137.4Z" fill="none" stroke="#ff8000" stroke-width="0.6" stroke-opacity="0.85"/><path d="M205.1 134.1L209.4 134.1L207.2 138Z" fill="none" stroke="#ff8000" stroke-width="0.6" stroke-opacity="0.85"/>
<path d="M203.9 133.5h5l-2.5 4.5zM204.5 133.8h5l-2.5 4.5zM205.1 134.0h5l-2.5 4.5zM205.7 134.2h5l-2.5 4.5zM206.3 134.5h5l-2.5 4.5zM206.9 134.7h5l-2.5 4.5zM207.5 135.0h5l-2.5 4.5zM208.1 135.2h5l-2.5 4.5zM208.7 135.4h5l-2.5 4.5zM209.3 135.7h5l-2.5 4.5zM209.9 135.9h5l-2.5 4.5zM210.5 136.1h5l-2.5 4.5zM211.1 136.4h5l-2.5 4.5zM211.7 136.6h5l-2.5 4.5zM212.3 136.8h5l-2.5 4.5zM212.9 137.1h5l-2.5 4.5zM213.5 137.3h5l-2.5 4.5zM214.1 137.6h5l-2.5 4.5zM214.7 137.8h5l-2.5 4.5zM215.3 138.1h5l-2.5 4.5zM215.9 138.3h5l-2.5 4.5zM216.5 138.6h5l-2.5 4.5zM217.1 138.8h5l-2.5 4.5zM217.7 139.1h5l-2.5 4.5zM218.3 139.4h5l-2.5 4.5zM218.9 139.7h5l-2.5 4.5zM219.5 139.9h5l-2.5 4.5zM220.1 140.2h5l-2.5 4.5zM220.7 140.5h5l-2.5 4.5zM221.3 140.8h5l-2.5 4.5zM221.9 141.1h5l-2.5 4.5zM222.5 141.4h5l-2.5 4.5zM223.1 141.6h5l-2.5 4.5zM223.7 141.9h5l-2.5 4.5zM224.3 142.2h5l-2.5 4.5zM224.9 142.5h5l-2.5 4.5zM225.5 142.7h5l-2.5 4.5zM226.1 143.0h5l-2.5 4.5zM226.7 143.3h5l-2.5 4.5zM227.3 143.5h5l-2.5 4.5zM227.9 143.8h5l-2.5 4.5zM228.5 144.1h5l-2.5 4.5zM229.1 144.3h5l-2.5 4.5zM229.7 144.6h5l-2.5 4.5zM230.3 144.8h5l-2.5 4.5zM230.9 145.1h5l-2.5 4.5zM231.5 145.3h5l-2.5 4.5zM232.1 145.5h5l-2.5 4.5zM232.7 145.8h5l-2.5 4.5zM233.3 146.0h5l-2.5 4.5zM233.9 146.3h5l-2.5 4.5zM234.5 146.5h5l-2.5 4.5zM235.1 146.7h5l-2.5 4.5zM235.7 147.0h5l-2.5 4.5zM236.3 147.2h5l-2.5 4.5zM236.9 147.4h5l-2.5 4.5zM237.5 147.7h5l-2.5 4.5zM238.1 147.9h5l-2.5 4.5zM238.7 148.1h5l-2.5 4.5zM239.3 148.4h5l-2.5 4.5zM239.9 148.6h5l-2.5 4.5zM240.5 148.8h5l-2.5 4.5zM241.1 149.0h5l-2.5 4.5zM241.7 149.3h5l-2.5 4.5zM242.3 149.5h5l-2.5 4.5zM242.9 149.7h5l-2.5 4.5zM243.5 149.9h5l-2.5 4.5zM244.1 150.1h5l-2.5 4.5zM244.7 150.4h5l-2.5 4.5zM245.3 150.6h5l-2.5 4.5zM245.9 150.8h5l-2.5 4.5zM246.5 151.0h5l-2.5 4.5zM247.1 151.2h5l-2.5 4.5zM247.7 151.5h5l-2.5 4.5zM248.3 151.7h5l-2.5 4.5zM248.9 151.9h5l-2.5 4.5zM249.5 152.1h5l-2.5 4.5zM250.1 152.3h5l-2.5 4.5zM250.7 152.5h5l-2.5 4.5zM251.3 152.7h5l-2.5 4.5zM251.9 152.9h5l-2.5 4.5zM252.5 153.2h5l-2.5 4.5zM253.1 153.4h5l-2.5 4.5zM253.7 153.6h5l-2.5 4.5zM254.3 153.8h5l-2.5 4.5zM254.9 154.0h5l-2.5 4.5zM255.5 154.2h5l-2.5 4.5zM256.1 154.4h5l-2.5 4.5zM256.7 154.6h5l-2.5 4.5zM257.3 154.8h5l-2.5 4.5zM257.9 155.0h5l-2.5 4.5zM258.5 155.2h5l-2.5 4.5zM259.1 155.4h5l-2.5 4.5zM259.7 155.6h5l-2.5 4.5zM260.3 155.8h5l-2.5 4.5zM260.9 156.0h5l-2.5 4.5zM261.5 156.2h5l-2.5 4.5zM262.1 156.3h5l-2.5 4.5zM262.7 156.5h5l-2.5 4.5zM263.3 156.7h5l-2.5 4.5zM263.9 156.9h5l-2.5 4.5zM264.5 157.0h5l-2.5 4.5zM265.1 157.2h5l-2.5 4.5zM265.7 157.3h5l-2.5 4.5zM266.3 157.5h5l-2.5 4.5zM266.9 157.6h5l-2.5 4.5zM267.5 157.8h5l-2.5 4.5zM268.1 157.9h5l-2.5 4.5zM268.7 158.1h5l-2.5 4.5zM269.3 158.2h5l-2.5 4.5zM269.9 158.4h5l-2.5 4.5zM270.5 158.5h5l-2.5 4.5zM271.1 158.6h5l-2.5 4.5zM271.7 158.8h5l-2.5 4.5zM272.3 158.9h5l-2.5 4.5zM272.9 159.1h5l-2.5 4.5zM273.5 159.2h5l-2.5 4.5zM274.1 159.4h5l-2.5 4.5zM274.7 159.5h5l-2.5 4.5zM275.3 159.7h5l-2.5 4.5zM275.9 159.8h5l-2.5 4.5zM276.5 160.0h5l-2.5 4.5zM277.1 160.1h5l-2.5 4.5zM277.7 160.2h5l-2.5 4.5zM278.3 160.4h5l-2.5 4.5zM278.9 160.5h5l-2.5 4.5zM279.5 160.7h5l-2.5 4.5zM280.1 160.8h5l-2.5 4.5zM280.7 160.9h5l-2.5 4.5zM281.3 161.1h5l-2.5 4.5zM281.9 161.2h5l-2.5 4.5zM282.5 161.4h5l-2.5 4.5zM283.1 161.5h5l-2.5 4.5zM283.7 161.6h5l-2.5 4.5zM284.3 161.8h5l-2.5 4.5zM284.9 161.9h5l-2.5 4.5zM285.5 162.1h5l-2.5 4.5zM286.1 162.2h5l-2.5 4.5zM286.7 162.3h5l-2.5 4.5zM287.3 162.5h5l-2.5 4.5zM287.9 162.6h5l-2.5 4.5zM288.5 162.8h5l-2.5 4.5zM289.1 162.9h5l-2.5 4.5zM289.7 163.0h5l-2.5 4.5zM290.3 163.2h5l-2.5 4.5zM290.9 163.3h5l-2.5 4.5zM291.5 163.5h5l-2.5 4.5zM292.1 163.6h5l-2.5 4.5zM292.7 163.8h5l-2.5 4.5zM293.3 163.9h5l-2.5 4.5zM293.9 164.0h5l-2.5 4.5zM294.5 164.1h5l-2.5 4.5zM295.1 164.3h5l-2.5 4.5zM295.7 164.4h5l-2.5 4.5zM296.3 164.5h5l-2.5 4.5zM296.9 164.6h5l-2.5 4.5zM297.5 164.7h5l-2.5 4.5zM298.1 164.8h5l-2.5 4.5zM298.7 164.9h5l-2.5 4.5zM299.3 165.0h5l-2.5 4.5zM299.9 165.1h5l-2.5 4.5zM300.5 165.2h5l-2.5 4.5zM301.1 165.2h5l-2.5 4.5zM301.7 165.3h5l-2.5 4.5zM302.3 165.4h5l-2.5 4.5zM302.9 165.5h5l-2.5 4.5zM303.5 165.6h5l-2.5 4.5zM304.1 165.7h5l-2.5 4.5zM304.7 165.7h5l-2.5 4.5zM305.3 165.8h5l-2.5 4.5zM305.9 165.9h5l-2.5 4.5zM306.5 166.0h5l-2.5 4.5zM307.1 166.0h5l-2.5 4.5zM307.7 166.1h5l-2.5 4.5zM308.3 166.2h5l-2.5 4.5zM308.9 166.3h5l-2.5 4.5zM309.5 166.3h5l-2.5 4.5zM310.1 166.4h5l-2.5 4.5zM310.7 166.5h5l-2.5 4.5zM311.3 166.5h5l-2.5 4.5zM311.9 166.6h5l-2.5 4.5zM312.5 166.7h5l-2.5 4.5zM313.1 166.7h5l-2.5 4.5zM313.7 166.8h5l-2.5 4.5zM314.3 166.8h5l-2.5 4.5zM314.9 166.9h5l-2.5 4.5zM315.5 166.9h5l-2.5 4.5zM316.1 167.0h5l-2.5 4.5zM316.7 167.0h5l-2.5 4.5zM317.3 167.1h5l-2.5 4.5zM317.9 167.1h5l-2.5 4.5zM318.5 167.2h5l-2.5 4.5zM319.1 167.2h5l-2.5 4.5zM319.7 167.3h5l-2.5 4.5zM320.3 167.3h5l-2.5 4.5zM320.9 167.4h5l-2.5 4.5zM321.5 167.4h5l-2.5 4.5zM322.1 167.4h5l-2.5 4.5zM322.7 167.5h5l-2.5 4.5zM323.3 167.5h5l-2.5 4.5zM323.9 167.6h5l-2.5 4.5zM324.5 167.6h5l-2.5 4.5zM325.1 167.6h5l-2.5 4.5zM325.7 167.7h5l-2.5 4.5zM326.3 167.7h5l-2.5 4.5zM326.9 167.8h5l-2.5 4.5zM327.5 167.8h5l-2.5 4.5zM328.1 167.8h5l-2.5 4.5zM328.7 167.9h5l-2.5 4.5zM329.3 167.9h5l-2.5 4.5zM329.9 167.9h5l-2.5 4.5zM330.5 168.0h5l-2.5 4.5zM331.1 168.0h5l-2.5 4.5zM331.7 168.0h5l-2.5 4.5zM332.3 168.1h5l-2.5 4.5zM332.9 168.1h5l-2.5 4.5zM333.5 168.1h5l-2.5 4.5zM334.1 168.2h5l-2.5 4.5zM334.7 168.2h5l-2.5 4.5zM335.3 168.2h5l-2.5 4.5zM335.9 168.3h5l-2.5 4.5zM336.5 168.3h5l-2.5 4.5zM337.1 168.3h5l-2.5 4.5zM337.7 168.4h5l-2.5 4.5zM338.3 168.4h5l-2.5 4.5zM338.9 168.4h5l-2.5 4.5zM339.5 168.4h5l-2.5 4.5zM340.1 168.5h5l-2.5 4.5zM340.7 168.5h5l-2.5 4.5zM341.3 168.5h5l-2.5 4.5zM341.9 168.6h5l-2.5 4.5zM342.5 168.6h5l-2.5 4.5zM343.1 168.6h5l-2.5 4.5zM343.7 168.6h5l-2.5 4.5zM344.3 168.7h5l-2.5 4.5zM344.9 168.7h5l-2.5 4.5zM345.5 168.7h5l-2.5 4.5zM346.1 168.7h5l-2.5 4.5zM346.7 168.8h5l-2.5 4.5zM347.3 168.8h5l-2.5 4.5zM347.9 168.8h5l-2.5 4.5zM348.5 168.8h5l-2.5 4.5zM349.1 168.9h5l-2.5 4.5zM349.7 168.9h5l-2.5 4.5zM350.3 168.9h5l-2.5 4.5zM350.9 168.9h5l-2.5 4.5zM351.5 169.0h5l-2.5 4.5zM352.1 169.0h5l-2.5 4.5zM352.7 169.0h5l-2.5 4.5zM353.3 169.0h5l-2.5 4.5zM353.9 169.1h5l-2.5 4.5zM354.5 169.1h5l-2.5 4.5zM355.1 169.1h5l-2.5 4.5zM355.7 169.1h5l-2.5 4.5zM356.3 169.2h5l-2.5 4.5zM356.9 169.2h5l-2.5 4.5zM357.5 169.2h5l-2.5 4.5zM358.1 169.2h5l-2.5 4.5zM358.7 169.3h5l-2.5 4.5zM359.3 169.3h5l-2.5 4.5zM359.9 169.3h5l-2.5 4.5zM360.5 169.3h5l-2.5 4.5zM361.1 169.4h5l-2.5 4.5zM361.7 169.4h5l-2.5 4.5zM362.3 169.4h5l-2.5 4.5zM362.9 169.4h5l-2.5 4.5zM363.5 169.5h5l-2.5 4.5zM364.1 169.5h5l-2.5 4.5zM364.7 169.5h5l-2.5 4.5zM365.3 169.5h5l-2.5 4.5zM365.9 169.6h5l-2.5 4.5zM366.5 169.6h5l-2.5 4.5zM367.1 169.6h5l-2.5 4.5zM367.7 169.6h5l-2.5 4.5zM368.3 169.6h5l-2.5 4.5zM368.9 169.7h5l-2.5 4.5zM369.5 169.7h5l-2.5 4.5zM370.1 169.7h5l-2.5 4.5zM370.7 169.7h5l-2.5 4.5zM371.3 169.8h5l-2.5 4.5zM371.9 169.8h5l-2.5 4.5zM372.5 169.8h5l-2.5 4.5zM373.1 169.8h5l-2.5 4.5zM373.7 169.8h5l-2.5 4.5zM374.3 169.9h5l-2.5 4.5zM374.9 169.9h5l-2.5 4.5zM375.5 169.9h5l-2.5 4.5zM376.1 169.9h5l-2.5 4.5zM376.7 170.0h5l-2.5 4.5zM377.3 170.0h5l-2.5 4.5zM377.9 170.0h5l-2.5 4.5zM378.5 170.0h5l-2.5 4.5zM379.1 170.0h5l-2.5 4.5zM379.7 170.1h5l-2.5 4.5zM380.3 170.1h5l-2.5 4.5zM380.9 170.1h5l-2.5 4.5zM381.5 170.1h5l-2.5 4.5zM382.1 170.1h5l-2.5 4.5zM382.7 170.2h5l-2.5 4.5zM383.3 170.2h5l-2.5 4.5zM383.9 170.2h5l-2.5 4.5zM384.5 170.2h5l-2.5 4.5zM385.1 170.2h5l-2.5 4.5zM385.7 170.3h5l-2.5 4.5zM386.3 170.3h5l-2.5 4.5zM386.9 170.3h5l-2.5 4.5zM387.5 170.3h5l-2.5 4.5zM388.1 170.3h5l-2.5 4.5zM388.7 170.3h5l-2.5 4.5zM389.3 170.4h5l-2.5 4.5zM389.9 170.4h5l-2.5 4.5zM390.5 170.4h5l-2.5 4.5zM391.1 170.4h5l-2.5 4.5zM391.7 170.4h5l-2.5 4.5zM392.3 170.4h5l-2.5 4.5zM392.9 170.5h5l-2.5 4.5zM393.5 170.5h5l-2.5 4.5zM394.1 170.5h5l-2.5 4.5zM394.7 170.5h5l-2.5 4.5zM395.3 170.5h5l-2.5 4.5zM395.9 170.5h5l-2.5 4.5zM396.5 170.6h5l-2.5 4.5zM397.1 170.6h5l-2.5 4.5zM397.7 170.6h5l-2.5 4.5zM398.3 170.6h5l-2.5 4.5zM398.9 170.6h5l-2.5 4.5zM399.5 170.6h5l-2.5 4.5zM400.1 170.6h5l-2.5 4.5zM400.7 170.6h5l-2.5 4.5zM401.3 170.7h5l-2.5 4.5zM401.9 170.7h5l-2.5 4.5zM402.5 170.7h5l-2.5 4.5zM403.1 170.7h5l-2.5 4.5zM403.7 170.7h5l-2.5 4.5zM404.3 170.7h5l-2.5 4.5zM404.9 170.7h5l-2.5 4.5zM405.5 170.7h5l-2.5 4.5zM406.1 170.8h5l-2.5 4.5zM406.7 170.8h5l-2.5 4.5zM407.3 170.8h5l-2.5 4.5zM407.7 170.8h5l-2.5 4.5z" fill="#ff8000"/>
<path d="M62.5 28.9 L64.5 30.3 L66.5 31.7 L68.5 33.1 L70.5 34.5 L72.5 35.9 L74.5 37.2 L76.5 38.6 L78.5 39.9 L80.5 41.2 L82.5 42.5 L84.5 43.8 L86.5 45.0 L88.5 46.3 L90.5 47.5 L92.5 48.7 L94.5 50.0 L96.5 51.2 L98.5 52.4 L100.5 53.6 L102.5 54.8 L104.5 56.0 L106.5 57.2 L108.5 58.4 L110.5 59.7 L112.5 61.0 L114.5 62.3 L116.5 63.7 L118.5 65.1 L120.5 66.4 L122.5 67.7 L124.5 68.9 L126.5 70.2 L128.5 71.4 L130.5 72.6 L132.5 73.7 L134.5 74.9 L136.5 76.0 L138.5 77.1 L140.5 78.2 L142.5 79.3 L144.5 80.4 L146.5 81.5 L148.5 82.6 L150.5 83.8 L152.5 84.9 L154.5 85.9 L156.5 87.0 L158.5 87.9 L160.5 88.9 L162.5 89.9 L164.5 91.1 L166.5 92.4 L168.5 93.5 L170.5 94.5 L172.5 95.5 L174.5 96.5 L176.5 97.4 L178.5 98.4 L180.5 99.3 L182.5 100.2 L184.5 101.2 L186.5 102.1 L188.5 103.1 L190.5 104.0 L192.5 104.9 L194.5 105.8 L196.5 106.6 L198.5 107.3 L200.5 108.0 L202.5 108.6 L204.5 109.3 L206.5 109.8 L208.5 110.3 L210.5 110.8 L212.5 111.3 L214.5 111.9 L216.5 112.6 L218.5 113.3 L220.5 114.0 L222.5 114.7 L224.5 115.4 L226.5 116.0 L228.5 116.6 L230.5 117.1 L232.5 117.7 L234.5 118.2 L236.5 118.7 L238.5 119.2 L240.5 119.6 L242.5 120.1 L244.5 120.5 L246.5 120.9 L248.5 121.3 L250.5 121.7 L252.5 122.1 L254.5 122.5 L256.5 122.9 L258.5 123.2 L260.5 123.6 L262.5 123.9 L264.5 124.2 L266.5 124.4 L268.5 124.7 L270.5 124.9 L272.5 125.1 L274.5 125.3 L276.5 125.5 L278.5 125.6 L280.5 125.8 L282.5 126.0 L284.5 126.1 L286.5 126.3 L288.5 126.4 L290.5 126.5 L292.5 126.7 L294.5 126.8 L296.5 126.9 L298.5 127.0 L300.5 127.1 L302.5 127.2 L304.5 127.3 L306.5 127.4 L308.5 127.5 L310.5 127.6 L312.5 127.7 L314.5 127.8 L316.5 127.9 L318.5 128.0 L320.5 128.0 L322.5 128.1 L324.5 128.2 L326.5 128.3 L328.5 128.3 L330.5 128.4 L332.5 128.5 L334.5 128.6 L336.5 128.6 L338.5 128.7 L340.5 128.7 L342.5 128.8 L344.5 128.9 L346.5 128.9 L348.5 129.0 L350.5 129.0 L352.5 129.1 L354.5 129.1 L356.5 129.2 L358.5 129.2 L360.5 129.3 L362.5 129.3 L364.5 129.3 L366.5 129.4 L368.5 129.4 L370.5 129.5 L372.5 129.5 L374.5 129.6 L376.5 129.6 L378.5 129.6 L380.5 129.7 L382.5 129.7 L384.5 129.8 L386.5 129.8 L388.5 129.8 L390.5 129.9 L392.5 129.9 L394.5 129.9 L396.5 129.9 L398.5 130.0 L400.5 130.0 L402.5 130.0 L404.5 130.0 L406.5 130.1 L408.5 130.1 L410.2 130.1" stroke="#00a000" stroke-width="1.35" stroke-dasharray="4.8 2.1"/>
<rect x="59.9" y="25.9" width="5.2" height="5.2" fill="#00a000"/><rect x="90" y="46.7" width="5.2" height="5.2" fill="#00a000"/><rect x="107.6" y="57.2" width="5.2" height="5.2" fill="#00a000"/><rect x="120.1" y="65.5" width="5.2" height="5.2" fill="#00a000"/><rect x="129.8" y="71.4" width="5.2" height="5.2" fill="#00a000"/><rect x="137.7" y="75.8" width="5.2" height="5.2" fill="#00a000"/><rect x="144.4" y="79.5" width="5.2" height="5.2" fill="#00a000"/><rect x="150.2" y="82.8" width="5.2" height="5.2" fill="#00a000"/><rect x="155.3" y="85.4" width="5.2" height="5.2" fill="#00a000"/><rect x="159.9" y="87.6" width="5.2" height="5.2" fill="#00a000"/><rect x="164" y="90.2" width="5.2" height="5.2" fill="#00a000"/><rect x="167.8" y="92.2" width="5.2" height="5.2" fill="#00a000"/><rect x="171.3" y="93.9" width="5.2" height="5.2" fill="#00a000"/><rect x="174.5" y="95.4" width="5.2" height="5.2" fill="#00a000"/><rect x="177.5" y="96.8" width="5.2" height="5.2" fill="#00a000"/><rect x="180.3" y="98.1" width="5.2" height="5.2" fill="#00a000"/><rect x="182.9" y="99.3" width="5.2" height="5.2" fill="#00a000"/><rect x="185.4" y="100.5" width="5.2" height="5.2" fill="#00a000"/><rect x="187.8" y="101.7" width="5.2" height="5.2" fill="#00a000"/><rect x="190" y="102.7" width="5.2" height="5.2" fill="#00a000"/><rect x="192.1" y="103.6" width="5.2" height="5.2" fill="#00a000"/><rect x="194.1" y="104.4" width="5.2" height="5.2" fill="#00a000"/><rect x="196.1" y="105.1" width="5.2" height="5.2" fill="#00a000"/><rect x="197.9" y="105.7" width="5.2" height="5.2" fill="#00a000"/><rect x="199.7" y="106.3" width="5.2" height="5.2" fill="#00a000"/><rect x="201.4" y="106.8" width="5.2" height="5.2" fill="#00a000"/><rect x="203" y="107.3" width="5.2" height="5.2" fill="#00a000"/><rect x="204.6" y="107.7" width="5.2" height="5.2" fill="#00a000"/><rect x="206.1" y="108.1" width="5.2" height="5.2" fill="#00a000"/><rect x="207.6" y="108.4" width="5.2" height="5.2" fill="#00a000"/>
<path d="M207.6 108.4h5.2v5.2h-5.2zM208.2 108.5h5.2v5.2h-5.2zM208.8 108.7h5.2v5.2h-5.2zM209.4 108.8h5.2v5.2h-5.2zM210.0 109.0h5.2v5.2h-5.2zM210.6 109.2h5.2v5.2h-5.2zM211.2 109.3h5.2v5.2h-5.2zM211.8 109.5h5.2v5.2h-5.2zM212.4 109.7h5.2v5.2h-5.2zM213.0 109.9h5.2v5.2h-5.2zM213.6 110.2h5.2v5.2h-5.2zM214.2 110.4h5.2v5.2h-5.2zM214.8 110.6h5.2v5.2h-5.2zM215.4 110.8h5.2v5.2h-5.2zM216.0 111.1h5.2v5.2h-5.2zM216.6 111.3h5.2v5.2h-5.2zM217.2 111.5h5.2v5.2h-5.2zM217.8 111.7h5.2v5.2h-5.2zM218.4 111.9h5.2v5.2h-5.2zM219.0 112.1h5.2v5.2h-5.2zM219.6 112.3h5.2v5.2h-5.2zM220.2 112.5h5.2v5.2h-5.2zM220.8 112.7h5.2v5.2h-5.2zM221.4 112.9h5.2v5.2h-5.2zM222.0 113.1h5.2v5.2h-5.2zM222.6 113.3h5.2v5.2h-5.2zM223.2 113.5h5.2v5.2h-5.2zM223.8 113.7h5.2v5.2h-5.2zM224.4 113.8h5.2v5.2h-5.2zM225.0 114.0h5.2v5.2h-5.2zM225.6 114.2h5.2v5.2h-5.2zM226.2 114.4h5.2v5.2h-5.2zM226.8 114.5h5.2v5.2h-5.2zM227.4 114.7h5.2v5.2h-5.2zM228.0 114.9h5.2v5.2h-5.2zM228.6 115.0h5.2v5.2h-5.2zM229.2 115.2h5.2v5.2h-5.2zM229.8 115.4h5.2v5.2h-5.2zM230.4 115.5h5.2v5.2h-5.2zM231.0 115.7h5.2v5.2h-5.2zM231.6 115.8h5.2v5.2h-5.2zM232.2 116.0h5.2v5.2h-5.2zM232.8 116.1h5.2v5.2h-5.2zM233.4 116.3h5.2v5.2h-5.2zM234.0 116.4h5.2v5.2h-5.2zM234.6 116.6h5.2v5.2h-5.2zM235.2 116.7h5.2v5.2h-5.2zM235.8 116.9h5.2v5.2h-5.2zM236.4 117.0h5.2v5.2h-5.2zM237.0 117.1h5.2v5.2h-5.2zM237.6 117.3h5.2v5.2h-5.2zM238.2 117.4h5.2v5.2h-5.2zM238.8 117.5h5.2v5.2h-5.2zM239.4 117.7h5.2v5.2h-5.2zM240.0 117.8h5.2v5.2h-5.2zM240.6 117.9h5.2v5.2h-5.2zM241.2 118.1h5.2v5.2h-5.2zM241.8 118.2h5.2v5.2h-5.2zM242.4 118.3h5.2v5.2h-5.2zM243.0 118.5h5.2v5.2h-5.2zM243.6 118.6h5.2v5.2h-5.2zM244.2 118.7h5.2v5.2h-5.2zM244.8 118.8h5.2v5.2h-5.2zM245.4 118.9h5.2v5.2h-5.2zM246.0 119.1h5.2v5.2h-5.2zM246.6 119.2h5.2v5.2h-5.2zM247.2 119.3h5.2v5.2h-5.2zM247.8 119.4h5.2v5.2h-5.2zM248.4 119.5h5.2v5.2h-5.2zM249.0 119.7h5.2v5.2h-5.2zM249.6 119.8h5.2v5.2h-5.2zM250.2 119.9h5.2v5.2h-5.2zM250.8 120.0h5.2v5.2h-5.2zM251.4 120.1h5.2v5.2h-5.2zM252.0 120.2h5.2v5.2h-5.2zM252.6 120.4h5.2v5.2h-5.2zM253.2 120.5h5.2v5.2h-5.2zM253.8 120.6h5.2v5.2h-5.2zM254.4 120.7h5.2v5.2h-5.2zM255.0 120.8h5.2v5.2h-5.2zM255.6 120.9h5.2v5.2h-5.2zM256.2 121.0h5.2v5.2h-5.2zM256.8 121.1h5.2v5.2h-5.2zM257.4 121.2h5.2v5.2h-5.2zM258.0 121.3h5.2v5.2h-5.2zM258.6 121.4h5.2v5.2h-5.2zM259.2 121.5h5.2v5.2h-5.2zM259.8 121.6h5.2v5.2h-5.2zM260.4 121.6h5.2v5.2h-5.2zM261.0 121.7h5.2v5.2h-5.2zM261.6 121.8h5.2v5.2h-5.2zM262.2 121.9h5.2v5.2h-5.2zM262.8 122.0h5.2v5.2h-5.2zM263.4 122.1h5.2v5.2h-5.2zM264.0 122.1h5.2v5.2h-5.2zM264.6 122.2h5.2v5.2h-5.2zM265.2 122.3h5.2v5.2h-5.2zM265.8 122.4h5.2v5.2h-5.2zM266.4 122.4h5.2v5.2h-5.2zM267.0 122.5h5.2v5.2h-5.2zM267.6 122.6h5.2v5.2h-5.2zM268.2 122.6h5.2v5.2h-5.2zM268.8 122.7h5.2v5.2h-5.2zM269.4 122.8h5.2v5.2h-5.2zM270.0 122.8h5.2v5.2h-5.2zM270.6 122.9h5.2v5.2h-5.2zM271.2 122.9h5.2v5.2h-5.2zM271.8 123.0h5.2v5.2h-5.2zM272.4 123.0h5.2v5.2h-5.2zM273.0 123.1h5.2v5.2h-5.2zM273.6 123.2h5.2v5.2h-5.2zM274.2 123.2h5.2v5.2h-5.2zM274.8 123.3h5.2v5.2h-5.2zM275.4 123.3h5.2v5.2h-5.2zM276.0 123.4h5.2v5.2h-5.2zM276.6 123.4h5.2v5.2h-5.2zM277.2 123.5h5.2v5.2h-5.2zM277.8 123.5h5.2v5.2h-5.2zM278.4 123.6h5.2v5.2h-5.2zM279.0 123.6h5.2v5.2h-5.2zM279.6 123.7h5.2v5.2h-5.2zM280.2 123.7h5.2v5.2h-5.2zM280.8 123.7h5.2v5.2h-5.2zM281.4 123.8h5.2v5.2h-5.2zM282.0 123.8h5.2v5.2h-5.2zM282.6 123.9h5.2v5.2h-5.2zM283.2 123.9h5.2v5.2h-5.2zM283.8 124.0h5.2v5.2h-5.2zM284.4 124.0h5.2v5.2h-5.2zM285.0 124.1h5.2v5.2h-5.2zM285.6 124.1h5.2v5.2h-5.2zM286.2 124.1h5.2v5.2h-5.2zM286.8 124.2h5.2v5.2h-5.2zM287.4 124.2h5.2v5.2h-5.2zM288.0 124.3h5.2v5.2h-5.2zM288.6 124.3h5.2v5.2h-5.2zM289.2 124.3h5.2v5.2h-5.2zM289.8 124.4h5.2v5.2h-5.2zM290.4 124.4h5.2v5.2h-5.2zM291.0 124.4h5.2v5.2h-5.2zM291.6 124.5h5.2v5.2h-5.2zM292.2 124.5h5.2v5.2h-5.2zM292.8 124.5h5.2v5.2h-5.2zM293.4 124.6h5.2v5.2h-5.2zM294.0 124.6h5.2v5.2h-5.2zM294.6 124.7h5.2v5.2h-5.2zM295.2 124.7h5.2v5.2h-5.2zM295.8 124.7h5.2v5.2h-5.2zM296.4 124.7h5.2v5.2h-5.2zM297.0 124.8h5.2v5.2h-5.2zM297.6 124.8h5.2v5.2h-5.2zM298.2 124.8h5.2v5.2h-5.2zM298.8 124.9h5.2v5.2h-5.2zM299.4 124.9h5.2v5.2h-5.2zM300.0 124.9h5.2v5.2h-5.2zM300.6 125.0h5.2v5.2h-5.2zM301.2 125.0h5.2v5.2h-5.2zM301.8 125.0h5.2v5.2h-5.2zM302.4 125.0h5.2v5.2h-5.2zM303.0 125.1h5.2v5.2h-5.2zM303.6 125.1h5.2v5.2h-5.2zM304.2 125.1h5.2v5.2h-5.2zM304.8 125.2h5.2v5.2h-5.2zM305.4 125.2h5.2v5.2h-5.2zM306.0 125.2h5.2v5.2h-5.2zM306.6 125.2h5.2v5.2h-5.2zM307.2 125.3h5.2v5.2h-5.2zM307.8 125.3h5.2v5.2h-5.2zM308.4 125.3h5.2v5.2h-5.2zM309.0 125.4h5.2v5.2h-5.2zM309.6 125.4h5.2v5.2h-5.2zM310.2 125.4h5.2v5.2h-5.2zM310.8 125.4h5.2v5.2h-5.2zM311.4 125.5h5.2v5.2h-5.2zM312.0 125.5h5.2v5.2h-5.2zM312.6 125.5h5.2v5.2h-5.2zM313.2 125.5h5.2v5.2h-5.2zM313.8 125.6h5.2v5.2h-5.2zM314.4 125.6h5.2v5.2h-5.2zM315.0 125.6h5.2v5.2h-5.2zM315.6 125.6h5.2v5.2h-5.2zM316.2 125.7h5.2v5.2h-5.2zM316.8 125.7h5.2v5.2h-5.2zM317.4 125.7h5.2v5.2h-5.2zM318.0 125.7h5.2v5.2h-5.2zM318.6 125.8h5.2v5.2h-5.2zM319.2 125.8h5.2v5.2h-5.2zM319.8 125.8h5.2v5.2h-5.2zM320.4 125.8h5.2v5.2h-5.2zM321.0 125.9h5.2v5.2h-5.2zM321.6 125.9h5.2v5.2h-5.2zM322.2 125.9h5.2v5.2h-5.2zM322.8 125.9h5.2v5.2h-5.2zM323.4 126.0h5.2v5.2h-5.2zM324.0 126.0h5.2v5.2h-5.2zM324.6 126.0h5.2v5.2h-5.2zM325.2 126.0h5.2v5.2h-5.2zM325.8 126.0h5.2v5.2h-5.2zM326.4 126.1h5.2v5.2h-5.2zM327.0 126.1h5.2v5.2h-5.2zM327.6 126.1h5.2v5.2h-5.2zM328.2 126.1h5.2v5.2h-5.2zM328.8 126.1h5.2v5.2h-5.2zM329.4 126.2h5.2v5.2h-5.2zM330.0 126.2h5.2v5.2h-5.2zM330.6 126.2h5.2v5.2h-5.2zM331.2 126.2h5.2v5.2h-5.2zM331.8 126.2h5.2v5.2h-5.2zM332.4 126.3h5.2v5.2h-5.2zM333.0 126.3h5.2v5.2h-5.2zM333.6 126.3h5.2v5.2h-5.2zM334.2 126.3h5.2v5.2h-5.2zM334.8 126.3h5.2v5.2h-5.2zM335.4 126.4h5.2v5.2h-5.2zM336.0 126.4h5.2v5.2h-5.2zM336.6 126.4h5.2v5.2h-5.2zM337.2 126.4h5.2v5.2h-5.2zM337.8 126.4h5.2v5.2h-5.2zM338.4 126.5h5.2v5.2h-5.2zM339.0 126.5h5.2v5.2h-5.2zM339.6 126.5h5.2v5.2h-5.2zM340.2 126.5h5.2v5.2h-5.2zM340.8 126.5h5.2v5.2h-5.2zM341.4 126.5h5.2v5.2h-5.2zM342.0 126.6h5.2v5.2h-5.2zM342.6 126.6h5.2v5.2h-5.2zM343.2 126.6h5.2v5.2h-5.2zM343.8 126.6h5.2v5.2h-5.2zM344.4 126.6h5.2v5.2h-5.2zM345.0 126.6h5.2v5.2h-5.2zM345.6 126.7h5.2v5.2h-5.2zM346.2 126.7h5.2v5.2h-5.2zM346.8 126.7h5.2v5.2h-5.2zM347.4 126.7h5.2v5.2h-5.2zM348.0 126.7h5.2v5.2h-5.2zM348.6 126.7h5.2v5.2h-5.2zM349.2 126.7h5.2v5.2h-5.2zM349.8 126.8h5.2v5.2h-5.2zM350.4 126.8h5.2v5.2h-5.2zM351.0 126.8h5.2v5.2h-5.2zM351.6 126.8h5.2v5.2h-5.2zM352.2 126.8h5.2v5.2h-5.2zM352.8 126.8h5.2v5.2h-5.2zM353.4 126.8h5.2v5.2h-5.2zM354.0 126.9h5.2v5.2h-5.2zM354.6 126.9h5.2v5.2h-5.2zM355.2 126.9h5.2v5.2h-5.2zM355.8 126.9h5.2v5.2h-5.2zM356.4 126.9h5.2v5.2h-5.2zM357.0 126.9h5.2v5.2h-5.2zM357.6 126.9h5.2v5.2h-5.2zM358.2 127.0h5.2v5.2h-5.2zM358.8 127.0h5.2v5.2h-5.2zM359.4 127.0h5.2v5.2h-5.2zM360.0 127.0h5.2v5.2h-5.2zM360.6 127.0h5.2v5.2h-5.2zM361.2 127.0h5.2v5.2h-5.2zM361.8 127.0h5.2v5.2h-5.2zM362.4 127.1h5.2v5.2h-5.2zM363.0 127.1h5.2v5.2h-5.2zM363.6 127.1h5.2v5.2h-5.2zM364.2 127.1h5.2v5.2h-5.2zM364.8 127.1h5.2v5.2h-5.2zM365.4 127.1h5.2v5.2h-5.2zM366.0 127.1h5.2v5.2h-5.2zM366.6 127.2h5.2v5.2h-5.2zM367.2 127.2h5.2v5.2h-5.2zM367.8 127.2h5.2v5.2h-5.2zM368.4 127.2h5.2v5.2h-5.2zM369.0 127.2h5.2v5.2h-5.2zM369.6 127.2h5.2v5.2h-5.2zM370.2 127.2h5.2v5.2h-5.2zM370.8 127.2h5.2v5.2h-5.2zM371.4 127.3h5.2v5.2h-5.2zM372.0 127.3h5.2v5.2h-5.2zM372.6 127.3h5.2v5.2h-5.2zM373.2 127.3h5.2v5.2h-5.2zM373.8 127.3h5.2v5.2h-5.2zM374.4 127.3h5.2v5.2h-5.2zM375.0 127.3h5.2v5.2h-5.2zM375.6 127.3h5.2v5.2h-5.2zM376.2 127.4h5.2v5.2h-5.2zM376.8 127.4h5.2v5.2h-5.2zM377.4 127.4h5.2v5.2h-5.2zM378.0 127.4h5.2v5.2h-5.2zM378.6 127.4h5.2v5.2h-5.2zM379.2 127.4h5.2v5.2h-5.2zM379.8 127.4h5.2v5.2h-5.2zM380.4 127.4h5.2v5.2h-5.2zM381.0 127.4h5.2v5.2h-5.2zM381.6 127.5h5.2v5.2h-5.2zM382.2 127.5h5.2v5.2h-5.2zM382.8 127.5h5.2v5.2h-5.2zM383.4 127.5h5.2v5.2h-5.2zM384.0 127.5h5.2v5.2h-5.2zM384.6 127.5h5.2v5.2h-5.2zM385.2 127.5h5.2v5.2h-5.2zM385.8 127.5h5.2v5.2h-5.2zM386.4 127.5h5.2v5.2h-5.2zM387.0 127.5h5.2v5.2h-5.2zM387.6 127.6h5.2v5.2h-5.2zM388.2 127.6h5.2v5.2h-5.2zM388.8 127.6h5.2v5.2h-5.2zM389.4 127.6h5.2v5.2h-5.2zM390.0 127.6h5.2v5.2h-5.2zM390.6 127.6h5.2v5.2h-5.2zM391.2 127.6h5.2v5.2h-5.2zM391.8 127.6h5.2v5.2h-5.2zM392.4 127.6h5.2v5.2h-5.2zM393.0 127.6h5.2v5.2h-5.2zM393.6 127.6h5.2v5.2h-5.2zM394.2 127.7h5.2v5.2h-5.2zM394.8 127.7h5.2v5.2h-5.2zM395.4 127.7h5.2v5.2h-5.2zM396.0 127.7h5.2v5.2h-5.2zM396.6 127.7h5.2v5.2h-5.2zM397.2 127.7h5.2v5.2h-5.2zM397.8 127.7h5.2v5.2h-5.2zM398.4 127.7h5.2v5.2h-5.2zM399.0 127.7h5.2v5.2h-5.2zM399.6 127.7h5.2v5.2h-5.2zM400.2 127.7h5.2v5.2h-5.2zM400.8 127.7h5.2v5.2h-5.2zM401.4 127.7h5.2v5.2h-5.2zM402.0 127.7h5.2v5.2h-5.2zM402.6 127.8h5.2v5.2h-5.2zM403.2 127.8h5.2v5.2h-5.2zM403.8 127.8h5.2v5.2h-5.2zM404.4 127.8h5.2v5.2h-5.2zM405.0 127.8h5.2v5.2h-5.2zM405.6 127.8h5.2v5.2h-5.2zM406.2 127.8h5.2v5.2h-5.2zM406.8 127.8h5.2v5.2h-5.2zM407.4 127.8h5.2v5.2h-5.2zM407.6 127.8h5.2v5.2h-5.2z" fill="#00a000"/>
<path d="M62.5 20.7 L64.5 21.9 L66.5 23.2 L68.5 24.4 L70.5 25.7 L72.5 26.9 L74.5 28.1 L76.5 29.3 L78.5 30.5 L80.5 31.8 L82.5 33.0 L84.5 34.2 L86.5 35.4 L88.5 36.6 L90.5 37.8 L92.5 38.9 L94.5 40.2 L96.5 41.4 L98.5 42.7 L100.5 43.9 L102.5 45.1 L104.5 46.3 L106.5 47.6 L108.5 48.8 L110.5 50.1 L112.5 51.4 L114.5 52.7 L116.5 54.1 L118.5 55.5 L120.5 56.8 L122.5 58.1 L124.5 59.3 L126.5 60.5 L128.5 61.7 L130.5 62.8 L132.5 63.9 L134.5 64.8 L136.5 65.8 L138.5 66.7 L140.5 67.7 L142.5 68.8 L144.5 69.9 L146.5 71.0 L148.5 72.1 L150.5 73.2 L152.5 74.2 L154.5 75.1 L156.5 76.0 L158.5 76.9 L160.5 77.7 L162.5 78.5 L164.5 79.3 L166.5 80.1 L168.5 80.9 L170.5 81.8 L172.5 82.6 L174.5 83.5 L176.5 84.3 L178.5 85.2 L180.5 86.1 L182.5 87.1 L184.5 87.9 L186.5 88.8 L188.5 89.7 L190.5 90.5 L192.5 91.2 L194.5 91.9 L196.5 92.6 L198.5 93.2 L200.5 93.8 L202.5 94.4 L204.5 94.9 L206.5 95.4 L208.5 96.0 L210.5 96.5 L212.5 96.9 L214.5 97.4 L216.5 97.9 L218.5 98.4 L220.5 98.8 L222.5 99.3 L224.5 99.7 L226.5 100.1 L228.5 100.5 L230.5 100.9 L232.5 101.2 L234.5 101.6 L236.5 102.0 L238.5 102.3 L240.5 102.6 L242.5 103.0 L244.5 103.3 L246.5 103.6 L248.5 103.8 L250.5 104.1 L252.5 104.4 L254.5 104.6 L256.5 104.9 L258.5 105.1 L260.5 105.3 L262.5 105.5 L264.5 105.7 L266.5 106.0 L268.5 106.2 L270.5 106.4 L272.5 106.5 L274.5 106.7 L276.5 106.9 L278.5 107.0 L280.5 107.2 L282.5 107.3 L284.5 107.5 L286.5 107.6 L288.5 107.7 L290.5 107.9 L292.5 108.0 L294.5 108.1 L296.5 108.2 L298.5 108.2 L300.5 108.3 L302.5 108.4 L304.5 108.4 L306.5 108.5 L308.5 108.6 L310.5 108.6 L312.5 108.7 L314.5 108.7 L316.5 108.7 L318.5 108.8 L320.5 108.8 L322.5 108.9 L324.5 108.9 L326.5 109.0 L328.5 109.0 L330.5 109.0 L332.5 109.1 L334.5 109.1 L336.5 109.1 L338.5 109.2 L340.5 109.2 L342.5 109.2 L344.5 109.2 L346.5 109.3 L348.5 109.3 L350.5 109.3 L352.5 109.3 L354.5 109.4 L356.5 109.4 L358.5 109.4 L360.5 109.4 L362.5 109.4 L364.5 109.5 L366.5 109.5 L368.5 109.5 L370.5 109.5 L372.5 109.6 L374.5 109.6 L376.5 109.6 L378.5 109.6 L380.5 109.6 L382.5 109.6 L384.5 109.7 L386.5 109.7 L388.5 109.7 L390.5 109.7 L392.5 109.7 L394.5 109.7 L396.5 109.7 L398.5 109.8 L400.5 109.8 L402.5 109.8 L404.5 109.8 L406.5 109.8 L408.5 109.8 L410.2 109.8" stroke="#0000ff" stroke-width="2.6"/>
<circle cx="62.5" cy="20.7" r="2.9" fill="none" stroke="#0000ff" stroke-width="0.8"/><circle cx="92.6" cy="39.8" r="2.9" fill="none" stroke="#0000ff" stroke-width="0.8"/><circle cx="110.2" cy="50.5" r="2.9" fill="none" stroke="#0000ff" stroke-width="0.8"/><circle cx="122.7" cy="58.7" r="2.9" fill="none" stroke="#0000ff" stroke-width="0.8"/><circle cx="132.4" cy="64.3" r="2.9" fill="none" stroke="#0000ff" stroke-width="0.8"/><circle cx="140.3" cy="68.1" r="2.9" fill="none" stroke="#0000ff" stroke-width="0.8"/><circle cx="147" cy="71.8" r="2.9" fill="none" stroke="#0000ff" stroke-width="0.8"/><circle cx="152.8" cy="74.8" r="2.9" fill="none" stroke="#0000ff" stroke-width="0.8"/><circle cx="157.9" cy="77.1" r="2.9" fill="none" stroke="#0000ff" stroke-width="0.8"/><circle cx="162.5" cy="79" r="2.9" fill="none" stroke="#0000ff" stroke-width="0.8"/><circle cx="166.6" cy="80.7" r="2.9" fill="none" stroke="#0000ff" stroke-width="0.8"/><circle cx="170.4" cy="82.2" r="2.9" fill="none" stroke="#0000ff" stroke-width="0.8"/><circle cx="173.9" cy="83.7" r="2.9" fill="none" stroke="#0000ff" stroke-width="0.8"/><circle cx="177.1" cy="85.1" r="2.9" fill="none" stroke="#0000ff" stroke-width="0.8"/><circle cx="180.1" cy="86.5" r="2.9" fill="none" stroke="#0000ff" stroke-width="0.8"/><circle cx="182.9" cy="87.7" r="2.9" fill="none" stroke="#0000ff" stroke-width="0.8"/><circle cx="185.5" cy="88.9" r="2.9" fill="none" stroke="#0000ff" stroke-width="0.8"/><circle cx="188" cy="90" r="2.9" fill="none" stroke="#0000ff" stroke-width="0.8"/><circle cx="190.4" cy="90.9" r="2.9" fill="none" stroke="#0000ff" stroke-width="0.8"/><circle cx="192.6" cy="91.8" r="2.9" fill="none" stroke="#0000ff" stroke-width="0.8"/><circle cx="194.7" cy="92.5" r="2.9" fill="none" stroke="#0000ff" stroke-width="0.8"/><circle cx="196.7" cy="93.2" r="2.9" fill="none" stroke="#0000ff" stroke-width="0.8"/><circle cx="198.7" cy="93.8" r="2.9" fill="none" stroke="#0000ff" stroke-width="0.8"/><circle cx="200.5" cy="94.3" r="2.9" fill="none" stroke="#0000ff" stroke-width="0.8"/><circle cx="202.3" cy="94.8" r="2.9" fill="none" stroke="#0000ff" stroke-width="0.8"/><circle cx="204" cy="95.3" r="2.9" fill="none" stroke="#0000ff" stroke-width="0.8"/><circle cx="205.6" cy="95.7" r="2.9" fill="none" stroke="#0000ff" stroke-width="0.8"/><circle cx="207.2" cy="96.1" r="2.9" fill="none" stroke="#0000ff" stroke-width="0.8"/><circle cx="208.7" cy="96.5" r="2.9" fill="none" stroke="#0000ff" stroke-width="0.8"/><circle cx="210.2" cy="96.9" r="2.9" fill="none" stroke="#0000ff" stroke-width="0.8"/><circle cx="211.6" cy="97.2" r="2.9" fill="none" stroke="#0000ff" stroke-width="0.8"/><circle cx="213" cy="97.6" r="2.9" fill="none" stroke="#0000ff" stroke-width="0.8"/><circle cx="214.4" cy="97.9" r="2.9" fill="none" stroke="#0000ff" stroke-width="0.8"/><circle cx="215.6" cy="98.2" r="2.9" fill="none" stroke="#0000ff" stroke-width="0.8"/><circle cx="216.9" cy="98.5" r="2.9" fill="none" stroke="#0000ff" stroke-width="0.8"/><circle cx="218.1" cy="98.8" r="2.9" fill="none" stroke="#0000ff" stroke-width="0.8"/><circle cx="219.3" cy="99.1" r="2.9" fill="none" stroke="#0000ff" stroke-width="0.8"/><circle cx="220.5" cy="99.3" r="2.9" fill="none" stroke="#0000ff" stroke-width="0.8"/><circle cx="221.6" cy="99.6" r="2.9" fill="none" stroke="#0000ff" stroke-width="0.8"/><circle cx="222.7" cy="99.8" r="2.9" fill="none" stroke="#0000ff" stroke-width="0.8"/><circle cx="223.8" cy="100" r="2.9" fill="none" stroke="#0000ff" stroke-width="0.8"/><circle cx="224.8" cy="100.2" r="2.9" fill="none" stroke="#0000ff" stroke-width="0.8"/><circle cx="225.8" cy="100.5" r="2.9" fill="none" stroke="#0000ff" stroke-width="0.8"/><circle cx="226.8" cy="100.7" r="2.9" fill="none" stroke="#0000ff" stroke-width="0.8"/><circle cx="227.8" cy="100.9" r="2.9" fill="none" stroke="#0000ff" stroke-width="0.8"/><circle cx="228.8" cy="101" r="2.9" fill="none" stroke="#0000ff" stroke-width="0.8"/><circle cx="229.7" cy="101.2" r="2.9" fill="none" stroke="#0000ff" stroke-width="0.8"/><circle cx="230.6" cy="101.4" r="2.9" fill="none" stroke="#0000ff" stroke-width="0.8"/><circle cx="231.5" cy="101.6" r="2.9" fill="none" stroke="#0000ff" stroke-width="0.8"/><circle cx="232.4" cy="101.7" r="2.9" fill="none" stroke="#0000ff" stroke-width="0.8"/><circle cx="233.3" cy="101.9" r="2.9" fill="none" stroke="#0000ff" stroke-width="0.8"/><circle cx="234.1" cy="102" r="2.9" fill="none" stroke="#0000ff" stroke-width="0.8"/><circle cx="234.9" cy="102.2" r="2.9" fill="none" stroke="#0000ff" stroke-width="0.8"/><circle cx="235.7" cy="102.3" r="2.9" fill="none" stroke="#0000ff" stroke-width="0.8"/><circle cx="236.5" cy="102.5" r="2.9" fill="none" stroke="#0000ff" stroke-width="0.8"/><circle cx="237.3" cy="102.6" r="2.9" fill="none" stroke="#0000ff" stroke-width="0.8"/><circle cx="238.1" cy="102.7" r="2.9" fill="none" stroke="#0000ff" stroke-width="0.8"/><circle cx="238.8" cy="102.9" r="2.9" fill="none" stroke="#0000ff" stroke-width="0.8"/><circle cx="239.6" cy="103" r="2.9" fill="none" stroke="#0000ff" stroke-width="0.8"/><circle cx="240.3" cy="103.1" r="2.9" fill="none" stroke="#0000ff" stroke-width="0.8"/>
<path d="M153.6 75.2 L155.6 76.1 L157.6 77.0 L159.6 77.8 L161.6 78.7 L163.6 79.5 L165.6 80.3 L167.6 81.1 L169.6 81.9 L170.0 82.1" stroke="#0000ff" stroke-width="6.2" stroke-linecap="round"/>
<path d="M238.8 102.9 L240.8 103.2 L242.8 103.5 L244.8 103.8 L246.8 104.1 L248.8 104.4 L250.8 104.6 L252.8 104.9 L254.8 105.2 L256.8 105.4 L258.8 105.6 L260.8 105.8 L262.8 106.1 L264.8 106.3 L266.8 106.5 L268.8 106.7 L270.8 106.9 L272.8 107.1 L274.8 107.2 L276.8 107.4 L278.8 107.5 L280.8 107.7 L282.8 107.8 L284.8 108.0 L286.8 108.1 L288.8 108.3 L290.8 108.4 L292.8 108.5 L294.8 108.6 L296.8 108.7 L298.8 108.8 L300.8 108.8 L302.8 108.9 L304.8 108.9 L306.8 109.0 L308.8 109.1 L310.8 109.1 L312.8 109.2 L314.8 109.2 L316.8 109.3 L318.8 109.3 L320.8 109.3 L322.8 109.4 L324.8 109.4 L326.8 109.5 L328.8 109.5 L330.8 109.5 L332.8 109.6 L334.8 109.6 L336.8 109.6 L338.8 109.7 L340.8 109.7 L342.8 109.7 L344.8 109.7 L346.8 109.8 L348.8 109.8 L350.8 109.8 L352.8 109.8 L354.8 109.9 L356.8 109.9 L358.8 109.9 L360.8 109.9 L362.8 109.9 L364.8 110.0 L366.8 110.0 L368.8 110.0 L370.8 110.0 L372.8 110.1 L374.8 110.1 L376.8 110.1 L378.8 110.1 L380.8 110.1 L382.8 110.1 L384.8 110.2 L386.8 110.2 L388.8 110.2 L390.8 110.2 L392.8 110.2 L394.8 110.2 L396.8 110.2 L398.8 110.3 L400.8 110.3 L402.8 110.3 L404.8 110.3 L406.8 110.3 L408.8 110.3 L410.2 110.3" stroke="#0000ff" stroke-width="6.2" stroke-linecap="round"/>
<path d="M62.5 14.2 L64.5 15.4 L66.5 16.6 L68.5 17.8 L70.5 18.9 L72.5 20.1 L74.5 21.2 L76.5 22.4 L78.5 23.5 L80.5 24.6 L82.5 25.8 L84.5 26.9 L86.5 28.0 L88.5 29.1 L90.5 30.2 L92.5 31.2 L94.5 32.4 L96.5 33.6 L98.5 34.7 L100.5 35.8 L102.5 36.9 L104.5 38.1 L106.5 39.2 L108.5 40.3 L110.5 41.4 L112.5 42.5 L114.5 43.6 L116.5 44.7 L118.5 45.8 L120.5 46.9 L122.5 47.9 L124.5 48.9 L126.5 49.9 L128.5 50.8 L130.5 51.8 L132.5 52.7 L134.5 53.7 L136.5 54.6 L138.5 55.6 L140.5 56.7 L142.5 57.8 L144.5 58.9 L146.5 60.1 L148.5 61.2 L150.5 62.3 L152.5 63.2 L154.5 64.2 L156.5 65.0 L158.5 65.7 L160.5 66.4 L162.5 67.1 L164.5 67.7 L166.5 68.3 L168.5 68.9 L170.5 69.5 L172.5 70.1 L174.5 70.7 L176.5 71.4 L178.5 72.0 L180.5 72.7 L182.5 73.3 L184.5 74.0 L186.5 74.6 L188.5 75.2 L190.5 75.8 L192.5 76.3 L194.5 76.8 L196.5 77.3 L198.5 77.8 L200.5 78.3 L202.5 78.7 L204.5 79.2 L206.5 79.6 L208.5 80.0 L210.5 80.4 L212.5 80.8 L214.5 81.2 L216.5 81.6 L218.5 82.0 L220.5 82.3 L222.5 82.7 L224.5 83.0 L226.5 83.3 L228.5 83.5 L230.5 83.8 L232.5 84.1 L234.5 84.3 L236.5 84.6 L238.5 84.8 L240.5 85.0 L242.5 85.3 L244.5 85.5 L246.5 85.7 L248.5 85.9 L250.5 86.1 L252.5 86.2 L254.5 86.4 L256.5 86.6 L258.5 86.8 L260.5 86.9 L262.5 87.1 L264.5 87.3 L266.5 87.4 L268.5 87.6 L270.5 87.7 L272.5 87.9 L274.5 88.0 L276.5 88.1 L278.5 88.3 L280.5 88.4 L282.5 88.6 L284.5 88.7 L286.5 88.8 L288.5 88.9 L290.5 89.1 L292.5 89.2 L294.5 89.3 L296.5 89.4 L298.5 89.4 L300.5 89.5 L302.5 89.6 L304.5 89.6 L306.5 89.7 L308.5 89.8 L310.5 89.8 L312.5 89.9 L314.5 89.9 L316.5 90.0 L318.5 90.0 L320.5 90.1 L322.5 90.1 L324.5 90.2 L326.5 90.2 L328.5 90.3 L330.5 90.3 L332.5 90.3 L334.5 90.4 L336.5 90.4 L338.5 90.5 L340.5 90.5 L342.5 90.5 L344.5 90.5 L346.5 90.6 L348.5 90.6 L350.5 90.6 L352.5 90.6 L354.5 90.6 L356.5 90.7 L358.5 90.7 L360.5 90.7 L362.5 90.7 L364.5 90.7 L366.5 90.8 L368.5 90.8 L370.5 90.8 L372.5 90.8 L374.5 90.8 L376.5 90.8 L378.5 90.9 L380.5 90.9 L382.5 90.9 L384.5 90.9 L386.5 90.9 L388.5 90.9 L390.5 90.9 L392.5 91.0 L394.5 91.0 L396.5 91.0 L398.5 91.0 L400.5 91.0 L402.5 91.0 L404.5 91.0 L406.5 91.0 L408.5 91.0 L410.2 91.0" stroke="#ff8000" stroke-width="1.35" stroke-dasharray="4.8 2.1"/>
<path d="M59.9 16.1L65.1 16.1L62.5 11.7Z" fill="#ff8000"/><path d="M90 34.9L95.2 34.9L92.6 30.5Z" fill="#ff8000"/><path d="M107.6 45L112.8 45L110.2 40.6Z" fill="#ff8000"/><path d="M120.1 51.8L125.3 51.8L122.7 47.4Z" fill="#ff8000"/><path d="M129.8 56.5L135 56.5L132.4 52.1Z" fill="#ff8000"/><path d="M137.7 60.4L142.9 60.4L140.3 56Z" fill="#ff8000"/><path d="M144.4 64.2L149.6 64.2L147 59.8Z" fill="#ff8000"/><path d="M150.2 67.2L155.4 67.2L152.8 62.8Z" fill="#ff8000"/><path d="M155.3 69.3L160.5 69.3L157.9 64.9Z" fill="#ff8000"/><path d="M159.9 70.9L165.1 70.9L162.5 66.5Z" fill="#ff8000"/><path d="M164 72.2L169.2 72.2L166.6 67.8Z" fill="#ff8000"/><path d="M167.8 73.3L173 73.3L170.4 68.9Z" fill="#ff8000"/><path d="M171.3 74.4L176.5 74.4L173.9 70Z" fill="#ff8000"/><path d="M174.5 75.4L179.7 75.4L177.1 71Z" fill="#ff8000"/><path d="M177.5 76.3L182.7 76.3L180.1 71.9Z" fill="#ff8000"/><path d="M180.3 77.2L185.5 77.2L182.9 72.8Z" fill="#ff8000"/><path d="M182.9 78.1L188.1 78.1L185.5 73.7Z" fill="#ff8000"/><path d="M185.4 78.9L190.6 78.9L188 74.5Z" fill="#ff8000"/><path d="M187.8 79.6L193 79.6L190.4 75.2Z" fill="#ff8000"/><path d="M190 80.2L195.2 80.2L192.6 75.8Z" fill="#ff8000"/><path d="M192.1 80.7L197.3 80.7L194.7 76.3Z" fill="#ff8000"/><path d="M194.1 81.2L199.3 81.2L196.7 76.8Z" fill="#ff8000"/><path d="M196.1 81.7L201.3 81.7L198.7 77.3Z" fill="#ff8000"/><path d="M197.9 82.1L203.1 82.1L200.5 77.7Z" fill="#ff8000"/><path d="M199.7 82.5L204.9 82.5L202.3 78.1Z" fill="#ff8000"/><path d="M201.4 82.9L206.6 82.9L204 78.5Z" fill="#ff8000"/><path d="M203 83.2L208.2 83.2L205.6 78.8Z" fill="#ff8000"/><path d="M204.6 83.5L209.8 83.5L207.2 79.1Z" fill="#ff8000"/><path d="M206.1 83.9L211.3 83.9L208.7 79.5Z" fill="#ff8000"/><path d="M207.6 84.2L212.8 84.2L210.2 79.8Z" fill="#ff8000"/>
<path d="M128.3 55.8h5.2l-2.6-4.4zM128.7 56.0h5.2l-2.6-4.4zM129.1 56.1h5.2l-2.6-4.4zM129.5 56.3h5.2l-2.6-4.4zM129.9 56.5h5.2l-2.6-4.4zM130.3 56.7h5.2l-2.6-4.4zM130.7 56.9h5.2l-2.6-4.4zM131.1 57.1h5.2l-2.6-4.4zM131.5 57.3h5.2l-2.6-4.4zM131.9 57.5h5.2l-2.6-4.4zM132.3 57.7h5.2l-2.6-4.4zM132.7 57.9h5.2l-2.6-4.4zM133.1 58.1h5.2l-2.6-4.4zM133.5 58.2h5.2l-2.6-4.4zM133.9 58.4h5.2l-2.6-4.4zM134.3 58.6h5.2l-2.6-4.4zM134.7 58.8h5.2l-2.6-4.4zM135.1 59.0h5.2l-2.6-4.4zM135.5 59.2h5.2l-2.6-4.4zM135.9 59.4h5.2l-2.6-4.4zM136.3 59.6h5.2l-2.6-4.4zM136.7 59.9h5.2l-2.6-4.4zM137.1 60.1h5.2l-2.6-4.4zM137.5 60.3h5.2l-2.6-4.4zM137.9 60.5h5.2l-2.6-4.4zM138.3 60.7h5.2l-2.6-4.4zM138.7 60.9h5.2l-2.6-4.4zM139.1 61.1h5.2l-2.6-4.4zM139.5 61.4h5.2l-2.6-4.4zM139.9 61.6h5.2l-2.6-4.4zM140.3 61.8h5.2l-2.6-4.4zM140.7 62.1h5.2l-2.6-4.4zM141.1 62.3h5.2l-2.6-4.4zM141.5 62.5h5.2l-2.6-4.4zM141.9 62.7h5.2l-2.6-4.4zM142.3 63.0h5.2l-2.6-4.4zM142.7 63.2h5.2l-2.6-4.4zM143.1 63.4h5.2l-2.6-4.4zM143.5 63.6h5.2l-2.6-4.4zM143.9 63.9h5.2l-2.6-4.4zM144.3 64.1h5.2l-2.6-4.4zM144.5 64.2h5.2l-2.6-4.4z" fill="#ff8000"/>
<path d="M207.6 84.2h5.2l-2.6-4.4zM208.2 84.3h5.2l-2.6-4.4zM208.8 84.4h5.2l-2.6-4.4zM209.4 84.5h5.2l-2.6-4.4zM210.0 84.6h5.2l-2.6-4.4zM210.6 84.8h5.2l-2.6-4.4zM211.2 84.9h5.2l-2.6-4.4zM211.8 85.0h5.2l-2.6-4.4zM212.4 85.1h5.2l-2.6-4.4zM213.0 85.2h5.2l-2.6-4.4zM213.6 85.4h5.2l-2.6-4.4zM214.2 85.5h5.2l-2.6-4.4zM214.8 85.6h5.2l-2.6-4.4zM215.4 85.7h5.2l-2.6-4.4zM216.0 85.8h5.2l-2.6-4.4zM216.6 85.9h5.2l-2.6-4.4zM217.2 86.0h5.2l-2.6-4.4zM217.8 86.1h5.2l-2.6-4.4zM218.4 86.2h5.2l-2.6-4.4zM219.0 86.3h5.2l-2.6-4.4zM219.6 86.4h5.2l-2.6-4.4zM220.2 86.5h5.2l-2.6-4.4zM220.8 86.6h5.2l-2.6-4.4zM221.4 86.7h5.2l-2.6-4.4zM222.0 86.8h5.2l-2.6-4.4zM222.6 86.9h5.2l-2.6-4.4zM223.2 87.0h5.2l-2.6-4.4zM223.8 87.1h5.2l-2.6-4.4zM224.4 87.1h5.2l-2.6-4.4zM225.0 87.2h5.2l-2.6-4.4zM225.6 87.3h5.2l-2.6-4.4zM226.2 87.4h5.2l-2.6-4.4zM226.8 87.5h5.2l-2.6-4.4zM227.4 87.6h5.2l-2.6-4.4zM228.0 87.6h5.2l-2.6-4.4zM228.6 87.7h5.2l-2.6-4.4zM229.2 87.8h5.2l-2.6-4.4zM229.8 87.9h5.2l-2.6-4.4zM230.4 87.9h5.2l-2.6-4.4zM231.0 88.0h5.2l-2.6-4.4zM231.6 88.1h5.2l-2.6-4.4zM232.2 88.2h5.2l-2.6-4.4zM232.8 88.2h5.2l-2.6-4.4zM233.4 88.3h5.2l-2.6-4.4zM234.0 88.4h5.2l-2.6-4.4zM234.6 88.5h5.2l-2.6-4.4zM235.2 88.5h5.2l-2.6-4.4zM235.8 88.6h5.2l-2.6-4.4zM236.4 88.7h5.2l-2.6-4.4zM237.0 88.7h5.2l-2.6-4.4zM237.6 88.8h5.2l-2.6-4.4zM238.2 88.9h5.2l-2.6-4.4zM238.8 88.9h5.2l-2.6-4.4zM239.4 89.0h5.2l-2.6-4.4zM240.0 89.1h5.2l-2.6-4.4zM240.6 89.1h5.2l-2.6-4.4zM241.2 89.2h5.2l-2.6-4.4zM241.8 89.3h5.2l-2.6-4.4zM242.4 89.3h5.2l-2.6-4.4zM243.0 89.4h5.2l-2.6-4.4zM243.6 89.4h5.2l-2.6-4.4zM244.2 89.5h5.2l-2.6-4.4zM244.8 89.6h5.2l-2.6-4.4zM245.4 89.6h5.2l-2.6-4.4zM246.0 89.7h5.2l-2.6-4.4zM246.6 89.7h5.2l-2.6-4.4zM247.2 89.8h5.2l-2.6-4.4zM247.8 89.9h5.2l-2.6-4.4zM248.4 89.9h5.2l-2.6-4.4zM249.0 90.0h5.2l-2.6-4.4zM249.6 90.0h5.2l-2.6-4.4zM250.2 90.1h5.2l-2.6-4.4zM250.8 90.1h5.2l-2.6-4.4zM251.4 90.2h5.2l-2.6-4.4zM252.0 90.2h5.2l-2.6-4.4zM252.6 90.3h5.2l-2.6-4.4zM253.2 90.3h5.2l-2.6-4.4zM253.8 90.4h5.2l-2.6-4.4zM254.4 90.4h5.2l-2.6-4.4zM255.0 90.5h5.2l-2.6-4.4zM255.6 90.6h5.2l-2.6-4.4zM256.2 90.6h5.2l-2.6-4.4zM256.8 90.7h5.2l-2.6-4.4zM257.4 90.7h5.2l-2.6-4.4zM258.0 90.8h5.2l-2.6-4.4zM258.6 90.8h5.2l-2.6-4.4zM259.2 90.9h5.2l-2.6-4.4zM259.8 90.9h5.2l-2.6-4.4zM260.4 90.9h5.2l-2.6-4.4zM261.0 91.0h5.2l-2.6-4.4zM261.6 91.0h5.2l-2.6-4.4zM262.2 91.1h5.2l-2.6-4.4zM262.8 91.1h5.2l-2.6-4.4zM263.4 91.2h5.2l-2.6-4.4zM264.0 91.2h5.2l-2.6-4.4zM264.6 91.3h5.2l-2.6-4.4zM265.2 91.3h5.2l-2.6-4.4zM265.8 91.4h5.2l-2.6-4.4zM266.4 91.4h5.2l-2.6-4.4zM267.0 91.5h5.2l-2.6-4.4zM267.6 91.5h5.2l-2.6-4.4zM268.2 91.5h5.2l-2.6-4.4zM268.8 91.6h5.2l-2.6-4.4zM269.4 91.6h5.2l-2.6-4.4zM270.0 91.7h5.2l-2.6-4.4zM270.6 91.7h5.2l-2.6-4.4zM271.2 91.8h5.2l-2.6-4.4zM271.8 91.8h5.2l-2.6-4.4zM272.4 91.8h5.2l-2.6-4.4zM273.0 91.9h5.2l-2.6-4.4zM273.6 91.9h5.2l-2.6-4.4zM274.2 92.0h5.2l-2.6-4.4zM274.8 92.0h5.2l-2.6-4.4zM275.4 92.0h5.2l-2.6-4.4zM276.0 92.1h5.2l-2.6-4.4zM276.6 92.1h5.2l-2.6-4.4zM277.2 92.2h5.2l-2.6-4.4zM277.8 92.2h5.2l-2.6-4.4zM278.4 92.2h5.2l-2.6-4.4zM279.0 92.3h5.2l-2.6-4.4zM279.6 92.3h5.2l-2.6-4.4zM280.2 92.4h5.2l-2.6-4.4zM280.8 92.4h5.2l-2.6-4.4zM281.4 92.5h5.2l-2.6-4.4zM282.0 92.5h5.2l-2.6-4.4zM282.6 92.5h5.2l-2.6-4.4zM283.2 92.6h5.2l-2.6-4.4zM283.8 92.6h5.2l-2.6-4.4zM284.4 92.6h5.2l-2.6-4.4zM285.0 92.7h5.2l-2.6-4.4zM285.6 92.7h5.2l-2.6-4.4zM286.2 92.8h5.2l-2.6-4.4zM286.8 92.8h5.2l-2.6-4.4zM287.4 92.8h5.2l-2.6-4.4zM288.0 92.9h5.2l-2.6-4.4zM288.6 92.9h5.2l-2.6-4.4zM289.2 92.9h5.2l-2.6-4.4zM289.8 93.0h5.2l-2.6-4.4zM290.4 93.0h5.2l-2.6-4.4zM291.0 93.0h5.2l-2.6-4.4zM291.6 93.1h5.2l-2.6-4.4zM292.2 93.1h5.2l-2.6-4.4zM292.8 93.1h5.2l-2.6-4.4zM293.4 93.1h5.2l-2.6-4.4zM294.0 93.2h5.2l-2.6-4.4zM294.6 93.2h5.2l-2.6-4.4zM295.2 93.2h5.2l-2.6-4.4zM295.8 93.2h5.2l-2.6-4.4zM296.4 93.3h5.2l-2.6-4.4zM297.0 93.3h5.2l-2.6-4.4zM297.6 93.3h5.2l-2.6-4.4zM298.2 93.3h5.2l-2.6-4.4zM298.8 93.3h5.2l-2.6-4.4zM299.4 93.4h5.2l-2.6-4.4zM300.0 93.4h5.2l-2.6-4.4zM300.6 93.4h5.2l-2.6-4.4zM301.2 93.4h5.2l-2.6-4.4zM301.8 93.4h5.2l-2.6-4.4zM302.4 93.5h5.2l-2.6-4.4zM303.0 93.5h5.2l-2.6-4.4zM303.6 93.5h5.2l-2.6-4.4zM304.2 93.5h5.2l-2.6-4.4zM304.8 93.5h5.2l-2.6-4.4zM305.4 93.6h5.2l-2.6-4.4zM306.0 93.6h5.2l-2.6-4.4zM306.6 93.6h5.2l-2.6-4.4zM307.2 93.6h5.2l-2.6-4.4zM307.8 93.6h5.2l-2.6-4.4zM308.4 93.6h5.2l-2.6-4.4zM309.0 93.7h5.2l-2.6-4.4zM309.6 93.7h5.2l-2.6-4.4zM310.2 93.7h5.2l-2.6-4.4zM310.8 93.7h5.2l-2.6-4.4zM311.4 93.7h5.2l-2.6-4.4zM312.0 93.7h5.2l-2.6-4.4zM312.6 93.8h5.2l-2.6-4.4zM313.2 93.8h5.2l-2.6-4.4zM313.8 93.8h5.2l-2.6-4.4zM314.4 93.8h5.2l-2.6-4.4zM315.0 93.8h5.2l-2.6-4.4zM315.6 93.8h5.2l-2.6-4.4zM316.2 93.9h5.2l-2.6-4.4zM316.8 93.9h5.2l-2.6-4.4zM317.4 93.9h5.2l-2.6-4.4zM318.0 93.9h5.2l-2.6-4.4zM318.6 93.9h5.2l-2.6-4.4zM319.2 93.9h5.2l-2.6-4.4zM319.8 93.9h5.2l-2.6-4.4zM320.4 94.0h5.2l-2.6-4.4zM321.0 94.0h5.2l-2.6-4.4zM321.6 94.0h5.2l-2.6-4.4zM322.2 94.0h5.2l-2.6-4.4zM322.8 94.0h5.2l-2.6-4.4zM323.4 94.0h5.2l-2.6-4.4zM324.0 94.0h5.2l-2.6-4.4zM324.6 94.0h5.2l-2.6-4.4zM325.2 94.1h5.2l-2.6-4.4zM325.8 94.1h5.2l-2.6-4.4zM326.4 94.1h5.2l-2.6-4.4zM327.0 94.1h5.2l-2.6-4.4zM327.6 94.1h5.2l-2.6-4.4zM328.2 94.1h5.2l-2.6-4.4zM328.8 94.1h5.2l-2.6-4.4zM329.4 94.1h5.2l-2.6-4.4zM330.0 94.2h5.2l-2.6-4.4zM330.6 94.2h5.2l-2.6-4.4zM331.2 94.2h5.2l-2.6-4.4zM331.8 94.2h5.2l-2.6-4.4zM332.4 94.2h5.2l-2.6-4.4zM333.0 94.2h5.2l-2.6-4.4zM333.6 94.2h5.2l-2.6-4.4zM334.2 94.2h5.2l-2.6-4.4zM334.8 94.2h5.2l-2.6-4.4zM335.4 94.2h5.2l-2.6-4.4zM336.0 94.3h5.2l-2.6-4.4zM336.6 94.3h5.2l-2.6-4.4zM337.2 94.3h5.2l-2.6-4.4zM337.8 94.3h5.2l-2.6-4.4zM338.4 94.3h5.2l-2.6-4.4zM339.0 94.3h5.2l-2.6-4.4zM339.6 94.3h5.2l-2.6-4.4zM340.2 94.3h5.2l-2.6-4.4zM340.8 94.3h5.2l-2.6-4.4zM341.4 94.3h5.2l-2.6-4.4zM342.0 94.3h5.2l-2.6-4.4zM342.6 94.3h5.2l-2.6-4.4zM343.2 94.4h5.2l-2.6-4.4zM343.8 94.4h5.2l-2.6-4.4zM344.4 94.4h5.2l-2.6-4.4zM345.0 94.4h5.2l-2.6-4.4zM345.6 94.4h5.2l-2.6-4.4zM346.2 94.4h5.2l-2.6-4.4zM346.8 94.4h5.2l-2.6-4.4zM347.4 94.4h5.2l-2.6-4.4zM348.0 94.4h5.2l-2.6-4.4zM348.6 94.4h5.2l-2.6-4.4zM349.2 94.4h5.2l-2.6-4.4zM349.8 94.4h5.2l-2.6-4.4zM350.4 94.4h5.2l-2.6-4.4zM351.0 94.4h5.2l-2.6-4.4zM351.6 94.4h5.2l-2.6-4.4zM352.2 94.4h5.2l-2.6-4.4zM352.8 94.5h5.2l-2.6-4.4zM353.4 94.5h5.2l-2.6-4.4zM354.0 94.5h5.2l-2.6-4.4zM354.6 94.5h5.2l-2.6-4.4zM355.2 94.5h5.2l-2.6-4.4zM355.8 94.5h5.2l-2.6-4.4zM356.4 94.5h5.2l-2.6-4.4zM357.0 94.5h5.2l-2.6-4.4zM357.6 94.5h5.2l-2.6-4.4zM358.2 94.5h5.2l-2.6-4.4zM358.8 94.5h5.2l-2.6-4.4zM359.4 94.5h5.2l-2.6-4.4zM360.0 94.5h5.2l-2.6-4.4zM360.6 94.5h5.2l-2.6-4.4zM361.2 94.5h5.2l-2.6-4.4zM361.8 94.5h5.2l-2.6-4.4zM362.4 94.5h5.2l-2.6-4.4zM363.0 94.6h5.2l-2.6-4.4zM363.6 94.6h5.2l-2.6-4.4zM364.2 94.6h5.2l-2.6-4.4zM364.8 94.6h5.2l-2.6-4.4zM365.4 94.6h5.2l-2.6-4.4zM366.0 94.6h5.2l-2.6-4.4zM366.6 94.6h5.2l-2.6-4.4zM367.2 94.6h5.2l-2.6-4.4zM367.8 94.6h5.2l-2.6-4.4zM368.4 94.6h5.2l-2.6-4.4zM369.0 94.6h5.2l-2.6-4.4zM369.6 94.6h5.2l-2.6-4.4zM370.2 94.6h5.2l-2.6-4.4zM370.8 94.6h5.2l-2.6-4.4zM371.4 94.6h5.2l-2.6-4.4zM372.0 94.6h5.2l-2.6-4.4zM372.6 94.6h5.2l-2.6-4.4zM373.2 94.6h5.2l-2.6-4.4zM373.8 94.6h5.2l-2.6-4.4zM374.4 94.7h5.2l-2.6-4.4zM375.0 94.7h5.2l-2.6-4.4zM375.6 94.7h5.2l-2.6-4.4zM376.2 94.7h5.2l-2.6-4.4zM376.8 94.7h5.2l-2.6-4.4zM377.4 94.7h5.2l-2.6-4.4zM378.0 94.7h5.2l-2.6-4.4zM378.6 94.7h5.2l-2.6-4.4zM379.2 94.7h5.2l-2.6-4.4zM379.8 94.7h5.2l-2.6-4.4zM380.4 94.7h5.2l-2.6-4.4zM381.0 94.7h5.2l-2.6-4.4zM381.6 94.7h5.2l-2.6-4.4zM382.2 94.7h5.2l-2.6-4.4zM382.8 94.7h5.2l-2.6-4.4zM383.4 94.7h5.2l-2.6-4.4zM384.0 94.7h5.2l-2.6-4.4zM384.6 94.7h5.2l-2.6-4.4zM385.2 94.7h5.2l-2.6-4.4zM385.8 94.7h5.2l-2.6-4.4zM386.4 94.7h5.2l-2.6-4.4zM387.0 94.7h5.2l-2.6-4.4zM387.6 94.7h5.2l-2.6-4.4zM388.2 94.7h5.2l-2.6-4.4zM388.8 94.7h5.2l-2.6-4.4zM389.4 94.7h5.2l-2.6-4.4zM390.0 94.8h5.2l-2.6-4.4zM390.6 94.8h5.2l-2.6-4.4zM391.2 94.8h5.2l-2.6-4.4zM391.8 94.8h5.2l-2.6-4.4zM392.4 94.8h5.2l-2.6-4.4zM393.0 94.8h5.2l-2.6-4.4zM393.6 94.8h5.2l-2.6-4.4zM394.2 94.8h5.2l-2.6-4.4zM394.8 94.8h5.2l-2.6-4.4zM395.4 94.8h5.2l-2.6-4.4zM396.0 94.8h5.2l-2.6-4.4zM396.6 94.8h5.2l-2.6-4.4zM397.2 94.8h5.2l-2.6-4.4zM397.8 94.8h5.2l-2.6-4.4zM398.4 94.8h5.2l-2.6-4.4zM399.0 94.8h5.2l-2.6-4.4zM399.6 94.8h5.2l-2.6-4.4zM400.2 94.8h5.2l-2.6-4.4zM400.8 94.8h5.2l-2.6-4.4zM401.4 94.8h5.2l-2.6-4.4zM402.0 94.8h5.2l-2.6-4.4zM402.6 94.8h5.2l-2.6-4.4zM403.2 94.8h5.2l-2.6-4.4zM403.8 94.8h5.2l-2.6-4.4zM404.4 94.8h5.2l-2.6-4.4zM405.0 94.8h5.2l-2.6-4.4zM405.6 94.8h5.2l-2.6-4.4zM406.2 94.8h5.2l-2.6-4.4zM406.8 94.8h5.2l-2.6-4.4zM407.4 94.8h5.2l-2.6-4.4zM407.6 94.8h5.2l-2.6-4.4z" fill="#ff8000"/>
</g>
<g stroke="#000" fill="none">
<path d="M62.6 0V248.3" stroke-width="1.4"/><path d="M61.9 247.7H463" stroke-width="1.3"/><path d="M61.9 0.55H463" stroke-width="1.1"/><path d="M462.3 0V248.3" stroke-width="1.4"/>
<path d="M62.5 247.5V240.9M62.5 0.5V7.8M132.4 247.5V240.9M132.4 0.5V7.8M162.5 247.5V240.9M162.5 0.5V7.8M232.4 247.5V240.9M232.4 0.5V7.8M262.5 247.5V240.9M262.5 0.5V7.8M332.4 247.5V240.9M332.4 0.5V7.8M362.5 247.5V240.9M362.5 0.5V7.8M392.6 247.5V240.9M392.6 0.5V7.8M410.2 247.5V240.9M410.2 0.5V7.8" stroke-width="1"/>
<path d="M92.6 247.5V244M92.6 0.5V4.8M110.2 247.5V244M110.2 0.5V4.8M122.7 247.5V244M122.7 0.5V4.8M140.3 247.5V244M140.3 0.5V4.8M147 247.5V244M147 0.5V4.8M152.8 247.5V244M152.8 0.5V4.8M157.9 247.5V244M157.9 0.5V4.8M192.6 247.5V244M192.6 0.5V4.8M210.2 247.5V244M210.2 0.5V4.8M222.7 247.5V244M222.7 0.5V4.8M240.3 247.5V244M240.3 0.5V4.8M247 247.5V244M247 0.5V4.8M252.8 247.5V244M252.8 0.5V4.8M257.9 247.5V244M257.9 0.5V4.8M292.6 247.5V244M292.6 0.5V4.8M310.2 247.5V244M310.2 0.5V4.8M322.7 247.5V244M322.7 0.5V4.8M340.3 247.5V244M340.3 0.5V4.8M347 247.5V244M347 0.5V4.8M352.8 247.5V244M352.8 0.5V4.8M357.9 247.5V244M357.9 0.5V4.8" stroke-width="0.9"/>
</g>
<path d="M62.5 238.2H66.5M62.5 183.2H66.5M62.5 128.2H66.5M62.5 73.2H66.5M62.5 18.2H66.5" stroke="#999" stroke-width="0.6" fill="none"/>
<path d="M62.5 221.6H65M62.5 212H65M62.5 205.1H65M62.5 199.8H65M62.5 195.4H65M62.5 191.7H65M62.5 188.5H65M62.5 185.7H65M62.5 166.6H65M62.5 157H65M62.5 150.1H65M62.5 144.8H65M62.5 140.4H65M62.5 136.7H65M62.5 133.5H65M62.5 130.7H65M62.5 111.6H65M62.5 102H65M62.5 95.1H65M62.5 89.8H65M62.5 85.4H65M62.5 81.7H65M62.5 78.5H65M62.5 75.7H65M62.5 56.6H65M62.5 47H65M62.5 40.1H65M62.5 34.8H65M62.5 30.4H65M62.5 26.7H65M62.5 23.5H65M62.5 20.7H65M62.5 1.6H65" stroke="#bbb" stroke-width="0.5" fill="none"/>
<text x="60.3" y="242.4" font-size="17" text-anchor="end">10</text>
<text x="60.3" y="187.4" font-size="17" text-anchor="end">100</text>
<text x="60.3" y="132.4" font-size="17" text-anchor="end">1000</text>
<text x="53.4" y="77.8" font-size="17" text-anchor="end">10</text>
<text x="54.4" y="72" font-size="11.2">4</text>
<text x="53.4" y="22.8" font-size="17" text-anchor="end">10</text>
<text x="54.4" y="17" font-size="11.2">5</text>
<text x="62.5" y="262.1" font-size="17" text-anchor="middle">0.001</text>
<text x="162.5" y="262.1" font-size="17" text-anchor="middle">0.01</text>
<text x="232.4" y="262.1" font-size="17" text-anchor="middle">0.05</text>
<text x="262.5" y="262.1" font-size="17" text-anchor="middle">0.1</text>
<text x="332.4" y="262.1" font-size="17" text-anchor="middle">0.5</text>
<text x="362.5" y="262.1" font-size="17" text-anchor="middle">1</text>
<text x="392.6" y="262.1" font-size="17" text-anchor="middle">2</text>
<text x="410.2" y="262.1" font-size="17" text-anchor="middle">3</text>
<g transform="translate(234.6 286.9) scale(0.02067 0.0195) skewX(-6)" fill="none" stroke="#000" stroke-linecap="round"><path d="M40 -395C85 -470 175 -465 200 -375L275 -95C300 -5 375 -5 435 -80" stroke-width="112"/><path d="M25 -45C80 20 120 -30 175 -110L330 -340C385 -425 425 -470 462 -420" stroke-width="42"/><circle cx="30" cy="-52" r="34" fill="#000" stroke="none"/><circle cx="455" cy="-410" r="34" fill="#000" stroke="none"/></g>
<text x="246.2" y="288.1" font-size="19" class="i">=</text>
<text x="257.4" y="286.7" font-size="19.5" class="i">r</text>
<path d="M267.2 291L272.2 273" stroke="#000" stroke-width="1.5" fill="none"/>
<text x="273" y="286.7" font-size="19.5" class="i">r</text>
<text x="280.8" y="288.6" font-size="13.6" class="i">B</text>
<g transform="translate(17.3 171.5) rotate(-90)">
<text x="-0.5" y="0" font-size="18" class="i">M</text>
<circle cx="9.5" cy="-15.1" r="1.35" fill="#000"/>
<text x="17.2" y="3.1" font-size="14" class="i">e</text>
<text x="25.1" y="0" font-size="18.5" class="i">(</text><g transform="translate(31.4 0.1) scale(0.01961 0.0185) skewX(-6)" fill="none" stroke="#000" stroke-linecap="round"><path d="M40 -395C85 -470 175 -465 200 -375L275 -95C300 -5 375 -5 435 -80" stroke-width="112"/><path d="M25 -45C80 20 120 -30 175 -110L330 -340C385 -425 425 -470 462 -420" stroke-width="42"/><circle cx="30" cy="-52" r="34" fill="#000" stroke="none"/><circle cx="455" cy="-410" r="34" fill="#000" stroke="none"/></g><text x="40.9" y="0" font-size="18.5" class="i">)</text>
<path d="M48.6 2.3L59.2 -11.8" stroke="#000" stroke-width="1.6" fill="none"/>
<text x="58.6" y="0" font-size="17" class="i">M</text>
<circle cx="64.8" cy="-14.4" r="1.35" fill="#000"/>
<text x="74" y="3.1" font-size="14.5" class="i">rad</text>
</g>
<path d="M406.6 28.4H430.1" stroke="#0000ff" stroke-width="0.8"/><circle cx="418.4" cy="28.4" r="2.9" fill="none" stroke="#0000ff" stroke-width="0.8"/><text class="s" x="439.5" y="30.8" font-size="11.2">M</text><text class="s" x="448.6" y="33.7" font-size="8.2">1</text><text class="s" x="449.2" y="27.4" font-size="6.5">*</text>
<path d="M406.6 57.7H430.1" stroke="#ffa860" stroke-width="0.9"/><path d="M416.2 56.4L420.5 56.4L418.4 60.3Z" fill="none" stroke="#ff8000" stroke-width="0.6" stroke-opacity="0.85"/><text class="s" x="439.5" y="59.9" font-size="11.2">M</text><text class="s" x="448.6" y="62.8" font-size="8.2">2</text><text class="s" x="449.2" y="56.5" font-size="6.5">*</text>
<path d="M406.6 87.3H430.1" stroke="#00a000" stroke-width="0.7"/><rect x="416.1" y="85.7" width="4.6" height="4.6" fill="none" stroke="#00a000" stroke-width="0.6" stroke-opacity="0.85"/><text class="s" x="439.5" y="89" font-size="11.2">M</text><text class="s" x="448.6" y="91.9" font-size="8.2">3</text><text class="s" x="449.2" y="85.6" font-size="6.5">*</text>
<path d="M406.6 116.3H428.7" stroke="#0000ff" stroke-width="0.7" stroke-dasharray="2.7 1.3"/><text class="s" x="439.5" y="118.3" font-size="11.2">M</text><text class="s" x="448.6" y="121.2" font-size="8.2">1</text>
<path d="M406.6 145.5H428.7" stroke="#ff8000" stroke-width="0.8" stroke-dasharray="2.7 1.3"/><path d="M415.9 148.4L421.1 148.4L418.5 144Z" fill="#ff8000"/><text class="s" x="439.5" y="147.5" font-size="11.2">M</text><text class="s" x="448.6" y="150.4" font-size="8.2">2</text>
<path d="M406.6 174.5H428.7" stroke="#00a000" stroke-width="0.8" stroke-dasharray="2.7 1.3"/><rect x="415.9" y="172.7" width="5.2" height="5.2" fill="#00a000"/><text class="s" x="439.5" y="176.8" font-size="11.2">M</text><text class="s" x="448.6" y="179.7" font-size="8.2">3</text>
<path d="M411.2 206.6H422.8" stroke="#000" stroke-width="1.2"/>
<text class="s" x="430.1" y="208.7" font-size="13.4">Grav</text>
<path d="M462.3 0V248.3" stroke="#000" stroke-width="1.4"/>
</svg></body></html>
